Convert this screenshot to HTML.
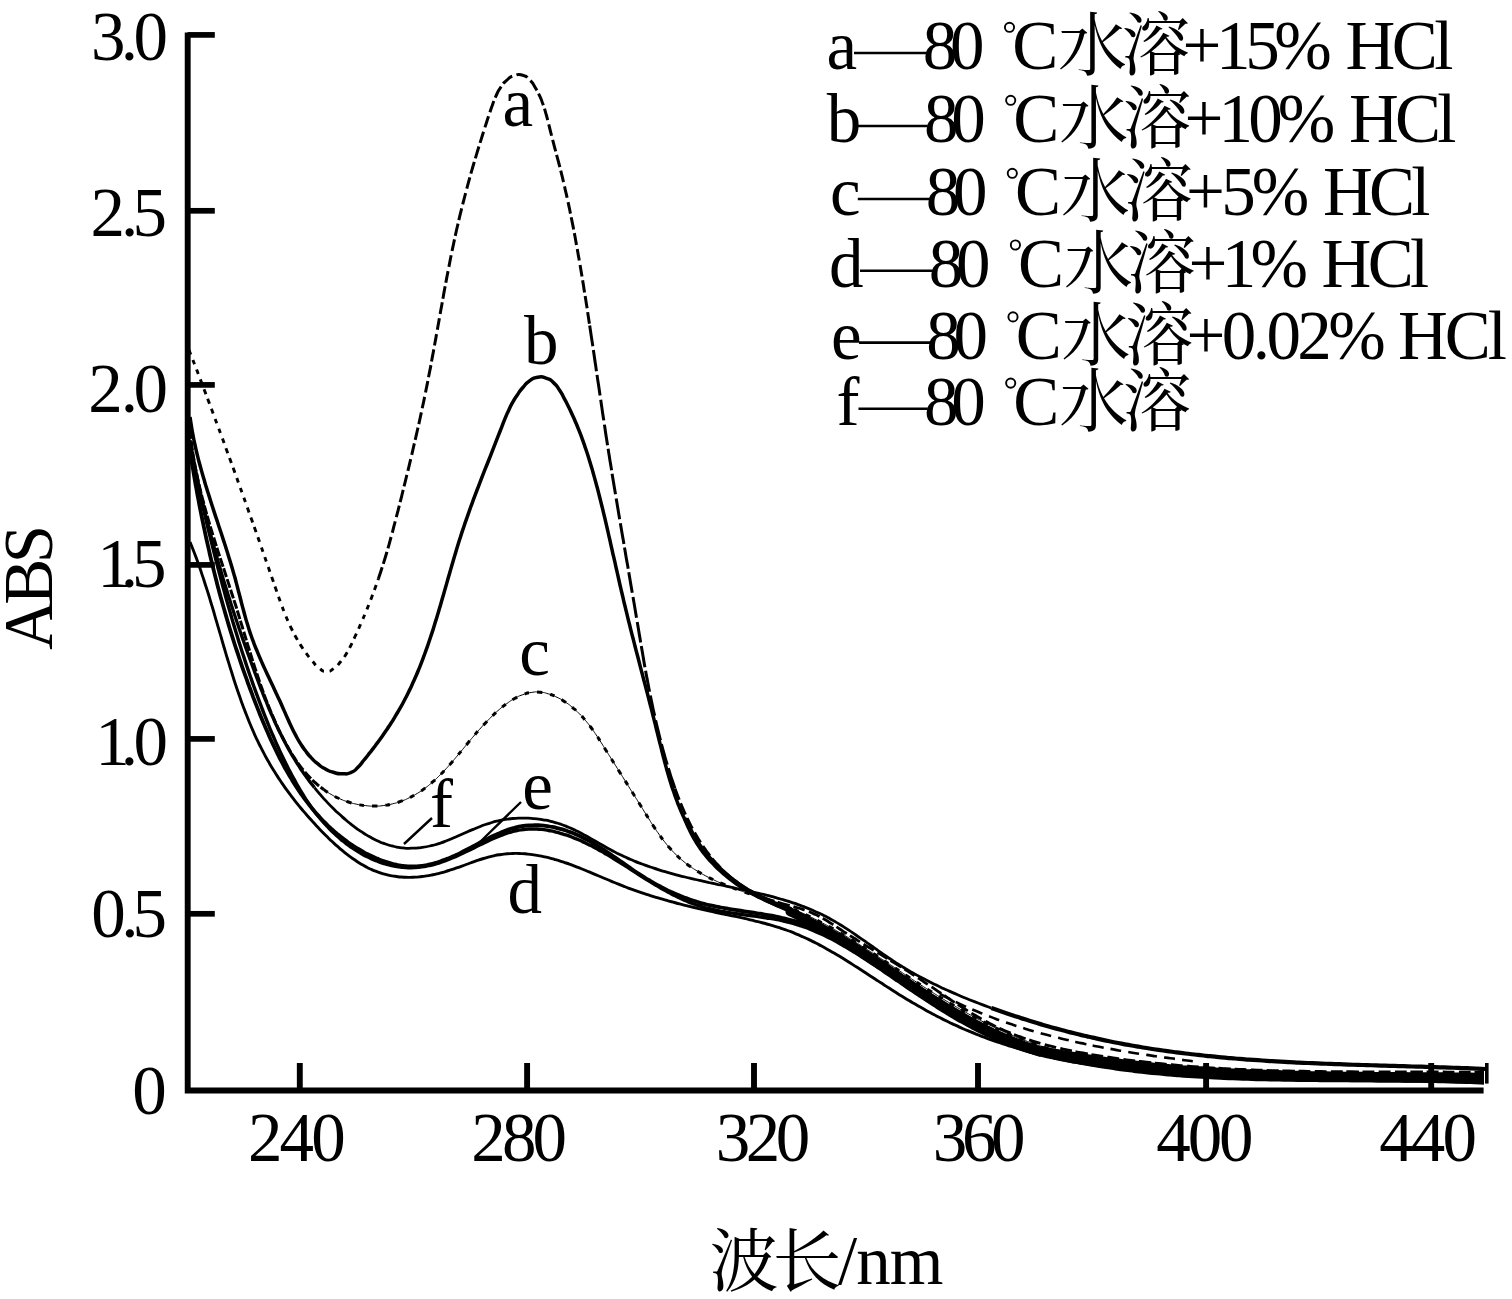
<!DOCTYPE html>
<html lang="zh"><head><meta charset="utf-8"><title>ABS</title>
<style>
html,body{margin:0;padding:0;background:#fff;}
body{width:1512px;height:1299px;overflow:hidden;}
svg{display:block;}
text{font-family:"Liberation Serif","Noto Serif CJK SC",serif;font-size:69px;fill:#000;}
.ax{stroke:#000;fill:none;stroke-linecap:butt;}
.cv{stroke:#000;fill:none;stroke-linejoin:round;}
</style></head><body>
<svg width="1512" height="1299" viewBox="0 0 1512 1299">
<rect width="1512" height="1299" fill="#fff"/>
<g id="axes">
<path class="ax" stroke-width="5.9" d="M187.7 32.5V1090.5H1483.6"/>
<path class="ax" stroke-width="5.7" d="M187.6 913.8H214.8"/>
<path class="ax" stroke-width="5.7" d="M187.6 738.9H214.8"/>
<path class="ax" stroke-width="5.7" d="M187.6 564.9H214.8"/>
<path class="ax" stroke-width="5.7" d="M187.6 384.9H214.8"/>
<path class="ax" stroke-width="5.7" d="M187.6 210.8H214.8"/>
<path class="ax" stroke-width="5.7" d="M187.6 34.9H214.8"/>
<path class="ax" stroke-width="5.9" d="M299.8 1090.5V1063"/>
<path class="ax" stroke-width="5.9" d="M527.1 1090.5V1063"/>
<path class="ax" stroke-width="5.9" d="M754.0 1090.5V1063"/>
<path class="ax" stroke-width="5.9" d="M978.0 1090.5V1063"/>
<path class="ax" stroke-width="5.9" d="M1206.1 1090.5V1063"/>
<path class="ax" stroke-width="5.9" d="M1431.2 1090.5V1063"/>
<path d="M1485 1063H1488.6V1083.6H1485Z" fill="#000"/>
</g>
<g id="ticklabels">
<text x="91.10 120.65 133.57" y="60.0">3.0</text>
<text x="90.57 121.05 132.59" y="235.8">2.5</text>
<text x="88.17 120.65 133.57" y="411.5">2.0</text>
<text x="97.24 120.85 131.89" y="587.3">1.5</text>
<text x="95.14 120.65 133.57" y="764.7">1.0</text>
<text x="91.37 121.15 132.59" y="937.0">0.5</text>
<text x="132.37" y="1113.9" letter-spacing="0.00">0</text>
<text x="247.97" y="1160.6" letter-spacing="-2.92">240</text>
<text x="471.37" y="1160.6" letter-spacing="-3.97">280</text>
<text x="715.70" y="1160.6" letter-spacing="-4.44">320</text>
<text x="932.70" y="1160.6" letter-spacing="-5.29">360</text>
<text x="1156.35" y="1160.6" letter-spacing="-3.21">400</text>
<text x="1379.25" y="1160.6" letter-spacing="-2.91">440</text>
</g>
<g id="titles">
<text transform="translate(52 650) rotate(-90)" letter-spacing="-4.5">ABS</text>
<text x="709.4 772.4" y="1285.7" font-size="66">波长</text>
<text x="838.0" y="1284.0" letter-spacing="-1.00" text-anchor="start">/nm</text>
</g>
<g id="legend">
<text x="826.57" y="69.0" letter-spacing="0.00">a</text>
<path d="M854.0 53.0H926.5" stroke="#000" stroke-width="2.6"/>
<text x="922.87" y="69.0" letter-spacing="-7.24">80</text>
<circle cx="1009.5" cy="27.3" r="4.6" fill="none" stroke="#000" stroke-width="1.9"/>
<text x="1012.17" y="69.0" letter-spacing="0.00">C</text>
<text x="1058.1 1121.2" y="70.3" font-size="64.5">水溶</text>
<text x="1182.56" y="69.0" letter-spacing="-5.37">+15%</text>
<text x="1345.51" y="69.0" letter-spacing="-3.58">HCl</text>
<text x="826.70" y="142.0" letter-spacing="0.00">b</text>
<path d="M855.4 126.0H927.7" stroke="#000" stroke-width="2.6"/>
<text x="924.07" y="142.0" letter-spacing="-7.24">80</text>
<circle cx="1010.7" cy="100.3" r="4.6" fill="none" stroke="#000" stroke-width="1.9"/>
<text x="1013.37" y="142.0" letter-spacing="0.00">C</text>
<text x="1059.3 1122.4" y="143.3" font-size="64.5">水溶</text>
<text x="1184.56" y="142.0" letter-spacing="-4.87">+10%</text>
<text x="1349.01" y="142.0" letter-spacing="-3.83">HCl</text>
<text x="829.97" y="215.0" letter-spacing="0.00">c</text>
<path d="M857.8 199.0H929.3" stroke="#000" stroke-width="2.6"/>
<text x="925.67" y="215.0" letter-spacing="-7.24">80</text>
<circle cx="1012.3" cy="173.3" r="4.6" fill="none" stroke="#000" stroke-width="1.9"/>
<text x="1014.97" y="215.0" letter-spacing="0.00">C</text>
<text x="1060.9 1124.0" y="216.3" font-size="64.5">水溶</text>
<text x="1186.06" y="215.0" letter-spacing="-3.80">+5%</text>
<text x="1323.01" y="215.0" letter-spacing="-3.83">HCl</text>
<text x="828.91" y="286.7" letter-spacing="0.00">d</text>
<path d="M860.0 270.7H932.4" stroke="#000" stroke-width="2.6"/>
<text x="928.77" y="286.7" letter-spacing="-7.24">80</text>
<circle cx="1015.4" cy="245.0" r="4.6" fill="none" stroke="#000" stroke-width="1.9"/>
<text x="1018.07" y="286.7" letter-spacing="0.00">C</text>
<text x="1064.0 1127.1" y="288.0" font-size="64.5">水溶</text>
<text x="1188.56" y="286.7" letter-spacing="-5.75">+1%</text>
<text x="1321.61" y="286.7" letter-spacing="-3.78">HCl</text>
<text x="831.10" y="358.6" letter-spacing="0.00">e</text>
<path d="M859.0 342.6H930.0" stroke="#000" stroke-width="2.6"/>
<text x="926.37" y="358.6" letter-spacing="-7.24">80</text>
<circle cx="1013.0" cy="316.9" r="4.6" fill="none" stroke="#000" stroke-width="1.9"/>
<text x="1015.67" y="358.6" letter-spacing="0.00">C</text>
<text x="1061.6 1124.7" y="359.9" font-size="64.5">水溶</text>
<text x="1186.56" y="358.6" letter-spacing="-3.59">+0.02%</text>
<text x="1398.01" y="358.6" letter-spacing="-3.08">HCl</text>
<text x="836.48" y="424.8" letter-spacing="0.00">f</text>
<path d="M858.5 408.8H927.7" stroke="#000" stroke-width="2.6"/>
<text x="924.07" y="424.8" letter-spacing="-7.24">80</text>
<circle cx="1010.7" cy="383.1" r="4.6" fill="none" stroke="#000" stroke-width="1.9"/>
<text x="1013.37" y="424.8" letter-spacing="0.00">C</text>
<text x="1059.3 1122.4" y="426.1" font-size="64.5">水溶</text>
</g>
<g id="curves" class="cv">
<path d="M189.0 350.0C190.1 352.8 190.1 352.8 192.2 358.3C194.4 363.9 193.3 361.1 195.5 366.7C197.6 372.3 196.5 369.5 198.7 375.1C200.8 380.7 199.7 377.9 201.9 383.6C204.0 389.2 203.0 386.4 205.1 392.0C207.2 397.7 206.2 394.8 208.3 400.5C210.4 406.2 209.3 403.3 211.5 409.0C213.6 414.7 212.5 411.8 214.6 417.5C216.7 423.2 215.7 420.3 217.8 426.0C219.9 431.7 218.9 428.9 221.0 434.6C223.1 440.3 222.0 437.4 224.1 443.1C226.2 448.8 225.1 446.0 227.2 451.7C229.3 457.4 228.3 454.5 230.4 460.3C232.4 466.0 231.4 463.1 233.5 468.8C235.5 474.6 234.5 471.7 236.6 477.4C238.6 483.1 237.6 480.3 239.6 486.0C241.7 491.7 240.7 488.8 242.7 494.6C244.8 500.3 243.7 497.4 245.8 503.1C247.8 508.8 246.8 506.0 248.8 511.7C250.8 517.4 249.8 514.6 251.9 520.3C253.9 526.0 252.9 523.1 254.9 528.8C256.9 534.5 255.9 531.7 257.9 537.3C259.9 543.0 258.9 540.2 260.9 545.9C262.9 551.5 261.9 548.7 263.8 554.4C265.8 560.0 264.8 557.2 266.8 562.9C268.8 568.5 267.8 565.7 269.7 571.3C271.7 577.0 270.7 574.2 272.7 579.8C274.6 585.4 273.6 582.6 275.6 588.2C277.5 593.8 276.5 591.0 278.5 596.6C280.5 602.2 279.4 599.4 281.5 604.9C283.6 610.5 282.5 607.7 284.7 613.2C286.9 618.7 285.7 616.0 288.1 621.4C290.5 626.9 289.2 624.2 291.9 629.5C294.6 634.9 293.1 632.2 296.1 637.5C299.1 642.8 297.5 640.2 300.8 645.4C304.2 650.6 302.4 648.0 306.1 653.1C309.9 658.2 307.9 655.8 312.1 660.7C316.3 665.6 314.1 664.3 318.8 667.8C323.5 671.4 321.2 671.2 326.2 671.4C331.3 671.5 329.1 671.6 334.0 668.3C338.9 664.9 336.8 666.2 341.0 661.3C345.1 656.3 343.2 658.8 346.5 653.4C349.8 648.1 348.2 650.8 350.9 645.3C353.7 639.8 352.3 642.5 354.8 637.0C357.4 631.5 356.1 634.3 358.6 628.8C361.0 623.3 359.8 626.0 362.2 620.5C364.6 615.0 363.4 617.8 365.7 612.2C368.0 606.7 366.9 609.5 369.1 604.0C371.3 598.4 370.2 601.2 372.3 595.6C374.4 590.0 373.4 592.8 375.4 587.2C377.5 581.6 377.4 581.6 378.4 578.8" stroke-width="2.9" stroke-dasharray="5 5.5"/>
<path d="M378.4 578.8C379.3 575.9 379.4 576.0 381.2 570.2C383.1 564.5 382.2 567.4 384.0 561.6C385.7 555.9 384.9 558.8 386.6 553.0C388.3 547.2 387.4 550.1 389.1 544.3C390.7 538.5 389.9 541.4 391.5 535.5C393.1 529.7 392.3 532.6 393.8 526.7C395.4 520.9 394.6 523.8 396.1 517.9C397.7 512.1 396.9 515.0 398.4 509.1C399.9 503.2 399.1 506.2 400.6 500.3C402.1 494.4 401.4 497.4 402.8 491.5C404.3 485.6 403.5 488.5 405.0 482.7C406.4 476.8 405.7 479.7 407.1 473.9C408.6 468.0 407.9 470.9 409.3 465.1C410.7 459.2 410.0 462.1 411.4 456.3C412.8 450.4 412.1 453.3 413.4 447.5C414.8 441.6 414.1 444.5 415.5 438.6C416.8 432.8 416.2 435.7 417.5 429.8C418.8 424.0 418.2 426.9 419.5 421.0C420.7 415.1 420.1 418.1 421.4 412.2C422.6 406.3 422.0 409.2 423.3 403.3C424.5 397.5 423.9 400.4 425.1 394.5C426.3 388.6 425.7 391.5 426.9 385.6C428.1 379.7 427.5 382.7 428.6 376.8C429.8 370.8 429.2 373.8 430.4 367.9C431.5 361.9 430.9 364.9 432.0 358.9C433.1 353.0 432.6 356.0 433.7 350.0C434.8 344.1 434.2 347.1 435.3 341.1C436.4 335.2 435.8 338.1 436.9 332.2C438.0 326.2 437.4 329.2 438.5 323.3C439.6 317.3 439.0 320.3 440.1 314.3C441.1 308.4 440.6 311.3 441.7 305.4C442.8 299.4 442.2 302.4 443.3 296.5C444.4 290.5 443.8 293.5 444.9 287.6C446.0 281.6 445.5 284.6 446.6 278.6C447.7 272.7 447.2 275.7 448.3 269.8C449.5 263.8 448.9 266.8 450.0 260.9C451.2 255.0 450.6 257.9 451.8 252.0C453.1 246.1 452.4 249.1 453.7 243.2C454.9 237.3 454.3 240.2 455.6 234.3C456.9 228.5 456.2 231.4 457.6 225.5C458.9 219.7 458.2 222.6 459.6 216.8C461.0 210.9 460.3 213.8 461.8 208.0C463.2 202.2 462.5 205.1 464.0 199.3C465.5 193.5 464.7 196.4 466.3 190.6C467.8 184.8 467.0 187.7 468.6 181.9C470.2 176.1 469.4 179.0 471.0 173.2C472.7 167.4 471.8 170.3 473.5 164.5C475.2 158.8 474.3 161.6 476.1 155.9C477.8 150.1 476.9 153.0 478.7 147.2C480.5 141.4 479.6 144.3 481.4 138.6C483.2 132.8 482.3 135.7 484.1 129.9C486.0 124.1 485.1 127.0 486.9 121.2C488.8 115.5 487.9 118.4 489.8 112.6C491.8 106.8 490.7 109.6 492.8 103.9C494.9 98.2 493.6 100.9 496.2 95.5C498.8 90.1 497.1 92.6 500.5 87.6C503.9 82.7 501.8 84.6 506.3 80.6C510.8 76.7 508.5 77.5 513.9 75.7C519.4 73.9 517.3 73.8 522.6 75.3C527.9 76.7 525.6 75.9 529.8 80.0C534.0 84.1 532.0 82.3 535.2 87.5C538.4 92.7 536.9 90.1 539.5 95.6C542.1 101.1 540.8 98.3 542.9 104.1C545.0 109.8 544.0 106.9 545.7 112.8C547.4 118.7 546.6 115.8 548.1 121.7C549.6 127.6 548.8 124.7 550.3 130.6C551.8 136.5 551.0 133.5 552.5 139.4C554.1 145.2 553.3 142.3 554.8 148.1C556.4 153.9 555.6 151.0 557.1 156.8C558.7 162.5 557.9 159.6 559.4 165.4C560.9 171.2 560.2 168.3 561.6 174.1C563.0 179.9 562.3 177.0 563.7 182.9C565.1 188.7 564.4 185.8 565.7 191.7C567.1 197.5 566.4 194.6 567.7 200.5C569.0 206.4 568.3 203.4 569.6 209.3C570.8 215.2 570.2 212.3 571.4 218.2C572.6 224.1 572.0 221.1 573.2 227.1C574.3 233.0 573.7 230.0 574.9 236.0C576.0 241.9 575.4 239.0 576.5 244.9C577.6 250.9 577.1 247.9 578.1 253.9C579.2 259.8 578.6 256.9 579.7 262.8C580.7 268.8 580.2 265.8 581.2 271.8C582.2 277.8 581.7 274.8 582.7 280.7C583.7 286.7 583.2 283.7 584.1 289.7C585.1 295.7 584.6 292.7 585.6 298.7C586.5 304.6 586.0 301.6 587.0 307.6C587.9 313.6 587.4 310.6 588.3 316.5C589.2 322.5 589.2 322.5 589.7 325.5" stroke-width="3.0" stroke-dasharray="12 4"/>
<path d="M589.7 325.5C590.1 328.5 590.2 328.5 591.0 334.4C591.9 340.4 591.5 337.4 592.4 343.4C593.3 349.3 592.8 346.3 593.7 352.3C594.6 358.2 594.1 355.3 595.0 361.2C595.9 367.2 595.5 364.2 596.3 370.2C597.2 376.1 596.8 373.1 597.6 379.1C598.5 385.0 598.1 382.1 599.0 388.0C599.8 394.0 599.4 391.0 600.3 396.9C601.2 402.9 600.7 399.9 601.6 405.9C602.5 411.8 602.0 408.9 602.9 414.8C603.8 420.8 603.4 417.8 604.3 423.8C605.2 429.7 604.7 426.7 605.6 432.7C606.5 438.7 606.1 435.7 607.0 441.7C607.9 447.6 607.5 444.6 608.4 450.6C609.3 456.6 608.9 453.6 609.8 459.6C610.8 465.5 610.3 462.6 611.3 468.5C612.2 474.5 611.7 471.5 612.7 477.5C613.7 483.5 613.2 480.5 614.2 486.5C615.2 492.5 614.7 489.5 615.7 495.4C616.7 501.4 616.2 498.4 617.2 504.4C618.2 510.4 617.7 507.4 618.7 513.4C619.7 519.4 619.2 516.4 620.2 522.4C621.2 528.3 620.7 525.3 621.7 531.3C622.7 537.3 622.2 534.3 623.3 540.3C624.3 546.3 623.8 543.3 624.8 549.2C625.8 555.2 625.3 552.2 626.3 558.2C627.4 564.2 626.8 561.2 627.9 567.1C628.9 573.1 628.4 570.1 629.4 576.1C630.4 582.0 629.9 579.1 630.9 585.0C632.0 591.0 631.4 588.0 632.5 593.9C633.5 599.9 633.0 596.9 634.0 602.8C635.0 608.8 634.5 605.8 635.5 611.7C636.5 617.6 636.0 614.7 637.0 620.6C638.0 626.5 637.5 623.6 638.5 629.5C639.5 635.4 639.0 632.4 640.0 638.3C640.9 644.2 640.4 641.3 641.5 647.2C642.5 653.1 642.0 650.1 643.0 656.0C644.0 661.9 643.5 659.0 644.5 664.9C645.6 670.7 645.1 667.8 646.1 673.7C647.2 679.6 646.7 676.6 647.8 682.5C648.9 688.4 648.3 685.4 649.5 691.3C650.7 697.2 650.1 694.3 651.3 700.2C652.5 706.0 651.9 703.1 653.1 709.0C654.4 714.9 653.8 711.9 655.1 717.8C656.4 723.7 655.7 720.8 657.1 726.7C658.5 732.5 657.8 729.6 659.3 735.5C660.8 741.4 660.0 738.4 661.5 744.3C663.1 750.3 662.3 747.3 663.9 753.2C665.6 759.1 664.7 756.2 666.5 762.1C668.2 768.0 667.3 765.0 669.2 770.9C671.0 776.8 670.0 773.9 672.0 779.8C674.0 785.6 674.0 785.6 675.0 788.5" stroke-width="3.0" stroke-dasharray="21 4"/>
<path d="M675.0 788.5C676.1 791.4 676.0 791.5 678.3 797.2C680.5 802.9 679.3 800.1 681.7 805.8C684.1 811.4 682.9 808.6 685.4 814.2C687.9 819.7 686.6 817.0 689.3 822.4C692.0 827.8 690.6 825.1 693.5 830.4C696.4 835.6 694.9 833.1 698.0 838.2C701.1 843.3 699.5 840.8 702.8 845.7C706.1 850.6 704.4 848.2 707.9 852.9C711.4 857.6 709.6 855.3 713.3 859.8C717.0 864.3 715.1 862.1 719.1 866.3C723.0 870.6 721.0 868.5 725.2 872.5C729.4 876.5 727.3 874.6 731.7 878.3C736.2 882.0 733.9 880.2 738.7 883.6C743.4 887.0 741.0 885.4 746.0 888.5C751.0 891.5 748.4 890.1 753.8 892.8C759.1 895.6 756.4 894.3 762.0 896.7C767.6 899.1 764.7 898.0 770.7 900.0C776.6 902.0 773.6 901.0 779.8 902.8C785.9 904.6 782.9 903.7 789.0 905.4C795.2 907.1 792.2 906.2 798.3 908.0C804.3 909.9 801.4 908.8 807.2 911.0C813.0 913.2 810.2 912.0 815.6 914.6C821.1 917.2 818.4 915.8 823.6 918.8C828.7 921.7 826.1 920.2 831.1 923.4C836.1 926.5 833.6 925.0 838.5 928.2C843.5 931.4 841.0 929.8 845.9 933.0C850.9 936.2 848.4 934.6 853.4 937.8C858.5 940.9 855.9 939.4 861.0 942.5C866.1 945.6 863.5 944.1 868.6 947.2C873.7 950.3 871.2 948.7 876.3 951.8C881.4 954.9 878.9 953.4 884.0 956.5C889.2 959.6 886.6 958.1 891.7 961.2C896.9 964.4 894.3 962.8 899.5 966.0C904.6 969.2 902.0 967.6 907.2 970.8C912.3 974.1 909.7 972.4 914.8 975.8C919.9 979.1 917.4 977.4 922.5 980.8C927.5 984.2 925.0 982.5 930.1 985.9C935.1 989.3 932.6 987.6 937.7 991.1C942.7 994.5 940.2 992.8 945.3 996.2C950.3 999.6 947.8 997.9 952.9 1001.3C958.0 1004.6 955.4 1003.0 960.5 1006.3C965.7 1009.5 963.1 1007.9 968.3 1011.1C973.4 1014.3 970.8 1012.8 976.0 1015.8C981.3 1018.9 978.6 1017.4 983.9 1020.3C989.2 1023.2 986.5 1021.8 991.9 1024.5C997.2 1027.3 994.5 1026.0 1000.0 1028.5C1005.4 1031.0 1002.7 1029.8 1008.2 1032.1C1013.7 1034.4 1010.9 1033.3 1016.5 1035.5C1022.1 1037.6 1019.3 1036.6 1025.0 1038.5C1030.6 1040.4 1027.8 1039.5 1033.5 1041.3C1039.2 1043.1 1036.3 1042.2 1042.1 1043.8C1047.9 1045.4 1045.0 1044.7 1050.8 1046.1C1056.7 1047.6 1053.7 1046.9 1059.6 1048.3C1065.5 1049.6 1062.6 1049.0 1068.5 1050.2C1074.4 1051.4 1071.4 1050.8 1077.3 1052.0C1083.3 1053.1 1080.3 1052.6 1086.3 1053.6C1092.2 1054.7 1089.2 1054.2 1095.2 1055.1C1101.2 1056.1 1098.2 1055.6 1104.2 1056.6C1110.1 1057.5 1107.1 1057.0 1113.1 1057.9C1119.1 1058.8 1116.1 1058.4 1122.1 1059.2C1128.1 1060.0 1125.1 1059.6 1131.1 1060.4C1137.1 1061.1 1134.1 1060.7 1140.1 1061.5C1146.1 1062.2 1143.1 1061.8 1149.1 1062.5C1155.1 1063.2 1152.1 1062.8 1158.1 1063.5C1164.1 1064.1 1161.1 1063.8 1167.1 1064.3C1173.1 1064.9 1170.1 1064.6 1176.1 1065.2C1182.1 1065.7 1179.1 1065.4 1185.1 1065.9C1191.1 1066.4 1188.1 1066.2 1194.2 1066.6C1200.2 1067.1 1197.2 1066.9 1203.2 1067.3C1209.2 1067.7 1206.2 1067.5 1212.2 1067.9C1218.2 1068.2 1215.2 1068.1 1221.3 1068.4C1227.3 1068.7 1224.3 1068.6 1230.3 1068.9C1236.3 1069.2 1233.3 1069.0 1239.4 1069.3C1245.4 1069.6 1242.4 1069.5 1248.4 1069.7C1254.5 1070.0 1251.4 1069.8 1257.5 1070.1C1263.5 1070.3 1260.5 1070.2 1266.5 1070.4C1272.6 1070.6 1269.6 1070.5 1275.6 1070.6C1281.6 1070.8 1278.6 1070.7 1284.7 1070.9C1290.7 1071.0 1287.7 1070.9 1293.7 1071.1C1299.8 1071.2 1296.8 1071.1 1302.8 1071.2C1308.8 1071.4 1305.8 1071.3 1311.9 1071.4C1317.9 1071.5 1314.9 1071.4 1320.9 1071.5C1327.0 1071.6 1324.0 1071.5 1330.0 1071.6C1336.1 1071.7 1333.0 1071.6 1339.1 1071.7C1345.1 1071.7 1342.1 1071.7 1348.2 1071.7C1354.2 1071.8 1351.2 1071.8 1357.2 1071.8C1363.3 1071.8 1360.2 1071.8 1366.3 1071.8C1372.3 1071.9 1369.3 1071.8 1375.4 1071.9C1381.4 1071.9 1378.4 1071.9 1384.4 1071.9C1390.5 1071.9 1387.5 1071.9 1393.5 1071.9C1399.5 1071.9 1396.5 1071.9 1402.6 1071.9C1408.6 1071.9 1405.6 1071.9 1411.6 1071.9C1417.7 1071.9 1414.6 1071.9 1420.7 1071.9C1426.7 1072.0 1423.7 1072.0 1429.7 1072.0C1435.8 1072.0 1432.8 1072.0 1438.8 1072.0C1444.8 1072.0 1441.8 1072.0 1447.8 1072.1C1453.9 1072.1 1450.9 1072.1 1456.9 1072.1C1462.9 1072.2 1459.9 1072.1 1465.9 1072.2C1472.0 1072.2 1468.9 1072.2 1475.0 1072.3C1481.0 1072.4 1481.0 1072.4 1484.0 1072.4" stroke-width="2.8" stroke-dasharray="12 4"/>
<path d="M190.0 417.0C190.5 420.0 190.4 420.1 191.4 426.1C192.4 432.1 191.8 429.1 193.0 435.1C194.1 441.1 193.5 438.1 194.8 444.0C196.1 450.0 195.4 447.0 196.8 452.9C198.2 458.8 197.5 455.8 199.0 461.7C200.6 467.5 199.8 464.6 201.4 470.4C203.0 476.2 202.2 473.3 203.9 479.1C205.6 484.9 204.7 482.0 206.5 487.8C208.2 493.6 207.4 490.7 209.2 496.4C211.0 502.2 210.1 499.3 211.9 505.0C213.8 510.8 212.8 507.9 214.7 513.6C216.6 519.4 215.7 516.5 217.6 522.2C219.4 527.9 218.5 525.1 220.4 530.8C222.3 536.5 221.3 533.7 223.2 539.4C225.1 545.2 224.2 542.3 226.0 548.0C227.8 553.8 226.9 550.9 228.7 556.7C230.5 562.5 229.6 559.6 231.4 565.4C233.1 571.2 232.3 568.3 233.9 574.1C235.6 579.9 234.8 577.0 236.3 582.9C237.9 588.7 237.1 585.8 238.6 591.7C240.2 597.6 239.4 594.6 240.9 600.5C242.4 606.4 241.6 603.5 243.2 609.3C244.8 615.2 244.0 612.3 245.6 618.1C247.3 623.9 246.4 621.0 248.2 626.7C250.0 632.5 249.1 629.6 251.0 635.3C253.0 641.0 252.0 638.2 254.1 643.8C256.3 649.4 255.2 646.6 257.5 652.1C259.8 657.7 258.6 654.9 261.0 660.4C263.4 665.9 262.2 663.1 264.7 668.6C267.2 674.1 266.0 671.3 268.5 676.8C271.1 682.3 269.8 679.5 272.4 685.0C274.9 690.5 273.7 687.7 276.2 693.3C278.8 698.8 277.5 696.0 280.1 701.5C282.6 707.1 281.3 704.3 283.8 709.9C286.3 715.5 285.0 712.7 287.5 718.3C290.1 723.9 288.7 721.2 291.4 726.7C294.0 732.2 292.6 729.5 295.5 734.9C298.3 740.2 296.8 737.6 300.0 742.8C303.2 747.9 301.5 745.5 305.1 750.3C308.7 755.2 306.8 752.9 310.9 757.4C315.1 761.8 312.9 759.9 317.6 763.7C322.3 767.5 319.8 765.9 325.0 768.8C330.3 771.7 327.5 770.6 333.3 772.3C339.0 773.9 336.2 773.7 342.2 773.7C348.2 773.8 345.9 774.6 351.2 772.4C356.5 770.1 353.9 771.1 358.2 767.0C362.4 762.9 360.2 764.7 364.0 760.0C367.9 755.3 366.0 757.7 369.7 752.9C373.5 748.2 371.6 750.6 375.3 745.7C378.9 740.9 377.1 743.4 380.6 738.5C384.1 733.5 382.4 736.0 385.8 731.0C389.2 726.1 387.5 728.6 390.8 723.5C394.0 718.5 392.4 721.0 395.5 715.9C398.6 710.7 397.1 713.3 400.1 708.1C403.1 702.9 401.6 705.5 404.4 700.2C407.2 694.9 405.9 697.6 408.5 692.2C411.2 686.7 409.9 689.5 412.4 684.0C414.9 678.5 413.7 681.2 416.1 675.7C418.5 670.1 417.3 672.9 419.6 667.3C421.8 661.7 420.7 664.5 422.9 658.8C425.0 653.2 424.0 656.0 426.0 650.3C428.1 644.6 427.1 647.4 429.0 641.7C431.0 635.9 430.0 638.8 431.9 633.1C433.8 627.3 432.8 630.2 434.6 624.4C436.4 618.6 435.6 621.5 437.3 615.7C439.1 609.9 438.2 612.8 439.9 607.0C441.6 601.2 440.8 604.1 442.4 598.3C444.1 592.5 443.3 595.4 444.9 589.6C446.6 583.8 445.8 586.7 447.4 580.9C449.1 575.1 448.2 578.0 449.9 572.2C451.6 566.4 450.7 569.3 452.4 563.5C454.1 557.7 453.2 560.6 455.0 554.8C456.7 549.0 455.8 551.9 457.6 546.1C459.4 540.4 458.4 543.2 460.3 537.5C462.1 531.7 461.2 534.6 463.1 528.9C465.0 523.2 464.0 526.0 466.0 520.3C468.0 514.6 467.0 517.5 469.0 511.8C471.0 506.1 470.0 508.9 472.1 503.3C474.2 497.6 473.1 500.4 475.2 494.8C477.4 489.1 476.3 491.9 478.5 486.3C480.6 480.7 479.6 483.5 481.7 477.9C483.9 472.2 482.8 475.0 485.0 469.4C487.3 463.8 486.2 466.6 488.4 461.0C490.6 455.4 489.5 458.2 491.7 452.6C493.9 447.0 492.8 449.8 495.0 444.2C497.2 438.5 496.1 441.4 498.3 435.7C500.5 430.1 499.4 432.9 501.6 427.3C503.8 421.7 502.6 424.5 504.9 418.9C507.2 413.4 505.9 416.1 508.5 410.7C511.0 405.2 509.6 407.9 512.5 402.6C515.5 397.4 513.8 399.9 517.3 394.9C520.7 389.9 518.8 392.2 522.9 387.5C526.9 382.9 524.6 384.4 529.5 380.9C534.5 377.5 531.9 378.1 537.6 377.3C543.3 376.4 541.2 376.4 546.6 378.3C552.1 380.3 549.7 379.1 554.0 383.1C558.3 387.1 556.2 385.2 559.6 390.2C563.0 395.3 561.3 392.9 564.2 398.4C567.2 403.9 565.8 401.2 568.5 406.7C571.2 412.2 569.9 409.4 572.4 415.0C575.0 420.5 573.7 417.8 576.1 423.3C578.4 428.9 577.3 426.1 579.5 431.7C581.7 437.3 580.6 434.5 582.7 440.1C584.7 445.7 583.7 442.9 585.6 448.5C587.5 454.2 586.6 451.3 588.4 457.0C590.2 462.7 589.3 459.8 591.0 465.5C592.7 471.2 591.9 468.4 593.5 474.1C595.1 479.8 594.3 477.0 595.9 482.7C597.4 488.5 596.7 485.6 598.2 491.4C599.7 497.2 598.9 494.3 600.4 500.1C601.9 506.0 601.1 503.0 602.6 508.9C604.0 514.8 603.3 511.8 604.7 517.7C606.1 523.6 605.4 520.7 606.8 526.6C608.1 532.5 607.5 529.5 608.8 535.5C610.2 541.4 609.5 538.4 610.8 544.3C612.2 550.3 611.5 547.3 612.8 553.3C614.2 559.2 613.5 556.2 614.9 562.2C616.2 568.1 615.5 565.1 616.9 571.1C618.2 577.0 617.5 574.0 618.9 580.0C620.2 585.9 619.5 582.9 620.9 588.8C622.3 594.7 621.6 591.8 623.0 597.7C624.3 603.6 623.6 600.6 625.1 606.5C626.5 612.3 625.8 609.4 627.2 615.2C628.6 621.1 627.9 618.2 629.4 624.0C630.8 629.8 630.1 626.9 631.5 632.7C633.0 638.5 632.3 635.6 633.8 641.4C635.3 647.2 634.5 644.3 636.0 650.1C637.5 655.8 636.8 652.9 638.3 658.7C639.8 664.5 639.0 661.6 640.5 667.4C642.0 673.2 641.3 670.3 642.8 676.1C644.3 681.9 643.6 679.0 645.1 684.8C646.6 690.6 645.8 687.7 647.4 693.5C648.9 699.4 648.1 696.4 649.6 702.3C651.1 708.1 650.4 705.2 651.9 711.1C653.4 717.0 652.6 714.0 654.1 719.9C655.6 725.8 654.9 722.9 656.3 728.8C657.8 734.7 657.1 731.8 658.5 737.7C660.0 743.7 659.3 740.7 660.8 746.7C662.3 752.7 661.5 749.7 663.0 755.6C664.6 761.6 663.8 758.6 665.4 764.6C667.0 770.5 666.2 767.6 667.9 773.4C669.6 779.3 668.7 776.4 670.5 782.3C672.4 788.1 671.4 785.2 673.4 791.0C675.3 796.7 674.3 793.9 676.4 799.5C678.5 805.2 677.4 802.4 679.7 808.0C682.0 813.5 680.8 810.8 683.3 816.2C685.8 821.6 684.5 819.0 687.2 824.3C689.9 829.6 688.5 827.0 691.5 832.1C694.5 837.2 692.9 834.7 696.1 839.7C699.4 844.6 697.7 842.2 701.2 847.0C704.7 851.8 702.9 849.4 706.7 854.0C710.5 858.6 708.6 856.4 712.6 860.7C716.7 865.1 714.6 863.0 718.9 867.2C723.3 871.3 721.1 869.3 725.6 873.3C730.1 877.2 727.8 875.3 732.6 879.0C737.3 882.8 734.9 881.0 739.8 884.5C744.8 888.0 742.3 886.3 747.4 889.6C752.5 892.9 749.9 891.3 755.1 894.4C760.4 897.4 757.7 896.0 763.1 898.8C768.5 901.6 765.8 900.2 771.3 902.8C776.7 905.5 774.0 904.2 779.5 906.6C785.1 909.1 782.3 907.8 787.9 910.2C793.5 912.5 790.7 911.3 796.3 913.7C801.8 916.0 799.1 914.8 804.6 917.2C810.1 919.7 807.4 918.4 812.9 921.0C818.3 923.5 815.6 922.2 821.0 924.9C826.4 927.6 823.7 926.3 829.0 929.1C834.3 932.0 831.7 930.5 836.9 933.5C842.2 936.4 839.5 934.9 844.7 938.0C849.9 941.1 847.3 939.5 852.5 942.7C857.6 945.9 855.1 944.3 860.2 947.5C865.3 950.8 862.7 949.1 867.8 952.4C872.9 955.7 870.3 954.1 875.4 957.5C880.4 960.8 877.9 959.1 882.9 962.5C887.9 965.9 885.4 964.2 890.4 967.7C895.5 971.1 892.9 969.4 898.0 972.8C903.0 976.2 900.5 974.5 905.5 978.0C910.5 981.4 908.0 979.7 913.0 983.1C918.0 986.5 915.5 984.8 920.5 988.2C925.6 991.6 923.0 989.9 928.1 993.2C933.2 996.6 930.6 994.9 935.7 998.2C940.8 1001.5 938.3 999.9 943.4 1003.1C948.5 1006.3 945.9 1004.7 951.1 1007.8C956.3 1010.9 953.7 1009.4 958.9 1012.4C964.2 1015.4 961.5 1013.9 966.8 1016.8C972.1 1019.7 969.5 1018.3 974.8 1021.1C980.2 1023.9 977.5 1022.5 982.9 1025.2C988.3 1027.8 985.6 1026.5 991.0 1029.1C996.5 1031.6 993.8 1030.4 999.3 1032.8C1004.8 1035.2 1002.0 1034.0 1007.6 1036.3C1013.2 1038.6 1010.4 1037.5 1016.0 1039.7C1021.6 1041.8 1018.8 1040.8 1024.5 1042.8C1030.1 1044.8 1027.3 1043.8 1033.0 1045.7C1038.7 1047.6 1035.9 1046.7 1041.6 1048.5C1047.4 1050.2 1044.5 1049.4 1050.3 1051.0C1056.1 1052.7 1053.2 1051.9 1059.0 1053.4C1064.8 1054.9 1061.9 1054.2 1067.8 1055.5C1073.7 1056.9 1070.7 1056.2 1076.6 1057.4C1082.5 1058.6 1079.6 1058.1 1085.5 1059.1C1091.4 1060.2 1088.5 1059.7 1094.4 1060.6C1100.4 1061.6 1097.4 1061.1 1103.4 1062.0C1109.4 1062.8 1106.4 1062.4 1112.4 1063.1C1118.4 1063.9 1115.4 1063.5 1121.4 1064.2C1127.5 1064.8 1124.4 1064.5 1130.5 1065.1C1136.5 1065.7 1133.5 1065.4 1139.5 1065.9C1145.6 1066.4 1142.6 1066.2 1148.6 1066.7C1154.7 1067.1 1151.6 1066.9 1157.7 1067.4C1163.7 1067.8 1160.7 1067.6 1166.8 1068.0C1172.8 1068.4 1169.8 1068.2 1175.8 1068.6C1181.9 1069.1 1178.9 1068.9 1184.9 1069.2C1191.0 1069.6 1187.9 1069.4 1194.0 1069.8C1200.0 1070.2 1197.0 1070.0 1203.1 1070.4C1209.1 1070.7 1206.1 1070.6 1212.1 1070.9C1218.2 1071.2 1215.1 1071.1 1221.2 1071.4C1227.2 1071.7 1224.2 1071.6 1230.2 1071.9C1236.3 1072.2 1233.3 1072.0 1239.3 1072.3C1245.3 1072.6 1242.3 1072.5 1248.4 1072.8C1254.4 1073.0 1251.4 1072.9 1257.4 1073.2C1263.4 1073.4 1260.4 1073.3 1266.5 1073.6C1272.5 1073.8 1269.5 1073.7 1275.5 1073.9C1281.5 1074.1 1278.5 1074.0 1284.6 1074.3C1290.6 1074.5 1287.6 1074.4 1293.6 1074.6C1299.7 1074.8 1296.6 1074.7 1302.7 1074.9C1308.7 1075.1 1305.7 1075.0 1311.7 1075.1C1317.8 1075.3 1314.7 1075.2 1320.8 1075.4C1326.8 1075.6 1323.8 1075.5 1329.8 1075.6C1335.9 1075.8 1332.8 1075.7 1338.9 1075.8C1344.9 1076.0 1341.9 1075.9 1347.9 1076.0C1354.0 1076.2 1350.9 1076.1 1357.0 1076.2C1363.0 1076.3 1360.0 1076.3 1366.0 1076.4C1372.1 1076.5 1369.1 1076.4 1375.1 1076.5C1381.1 1076.6 1378.1 1076.5 1384.2 1076.6C1390.2 1076.7 1387.2 1076.7 1393.2 1076.7C1399.3 1076.8 1396.2 1076.8 1402.3 1076.8C1408.3 1076.9 1405.3 1076.8 1411.4 1076.9C1417.4 1076.9 1414.4 1076.9 1420.4 1076.9C1426.5 1077.0 1423.4 1077.0 1429.5 1077.0C1435.5 1077.0 1432.5 1077.0 1438.6 1077.0C1444.6 1077.0 1441.6 1077.0 1447.6 1077.0C1453.7 1077.0 1450.7 1077.0 1456.7 1077.0C1462.8 1077.0 1459.8 1077.0 1465.8 1077.0C1471.9 1077.0 1468.8 1077.0 1474.9 1076.9C1481.0 1076.9 1481.0 1076.9 1484.0 1076.9" stroke-width="3.5"/>
<path d="M190.0 430.0C190.3 433.0 190.2 433.0 191.0 439.1C191.7 445.1 191.3 442.1 192.1 448.1C193.0 454.1 192.5 451.1 193.5 457.1C194.5 463.0 194.0 460.0 195.1 466.0C196.2 471.9 195.7 468.9 196.9 474.8C198.1 480.7 197.5 477.8 198.8 483.7C200.2 489.5 199.5 486.6 200.9 492.5C202.4 498.3 201.6 495.4 203.2 501.2C204.7 507.0 203.9 504.1 205.5 509.9C207.1 515.8 206.3 512.9 208.0 518.6C209.7 524.4 208.8 521.5 210.5 527.3C212.3 533.1 211.4 530.2 213.2 536.0C215.0 541.7 214.1 538.9 215.9 544.6C217.7 550.4 216.8 547.5 218.6 553.2C220.5 559.0 219.6 556.1 221.4 561.8C223.3 567.6 222.4 564.7 224.3 570.4C226.1 576.2 225.2 573.3 227.1 579.0C229.0 584.8 228.0 581.9 229.9 587.6C231.8 593.4 230.8 590.5 232.7 596.2C234.5 602.0 233.6 599.1 235.5 604.8C237.3 610.6 236.4 607.7 238.2 613.5C239.9 619.2 239.1 616.3 240.8 622.1C242.6 627.8 241.7 625.0 243.4 630.7C245.2 636.5 244.3 633.6 246.1 639.4C247.8 645.1 246.9 642.2 248.7 648.0C250.5 653.7 249.6 650.9 251.4 656.6C253.2 662.3 252.2 659.5 254.1 665.2C255.9 670.9 255.0 668.1 256.9 673.8C258.8 679.5 257.8 676.7 259.8 682.4C261.7 688.0 260.7 685.2 262.8 690.9C264.8 696.6 263.8 693.7 265.9 699.4C268.1 705.0 267.0 702.2 269.2 707.8C271.5 713.4 270.3 710.6 272.7 716.2C275.1 721.8 273.9 719.0 276.4 724.6C278.9 730.1 277.6 727.4 280.3 732.9C283.0 738.4 281.6 735.7 284.5 741.1C287.3 746.5 285.9 743.8 288.9 749.1C292.0 754.3 290.4 751.8 293.7 756.9C297.0 761.9 295.3 759.5 298.8 764.3C302.4 769.1 300.5 766.8 304.4 771.4C308.2 775.9 306.2 773.8 310.3 778.0C314.5 782.2 312.3 780.2 316.8 784.1C321.2 787.9 321.4 787.7 323.7 789.6" stroke-width="3.0" stroke-dasharray="9 2"/>
<path d="M323.7 789.6C326.2 791.2 326.0 791.4 331.1 794.4C336.3 797.4 333.6 796.0 339.2 798.5C344.7 800.9 341.9 799.9 347.7 801.8C353.5 803.6 350.6 802.9 356.6 804.2C362.6 805.4 359.6 805.0 365.7 805.6C371.8 806.3 368.8 806.1 374.8 806.1C380.9 806.0 377.9 806.2 383.8 805.5C389.8 804.7 386.9 805.3 392.6 803.8C398.4 802.4 395.6 803.3 401.2 801.2C406.7 799.2 404.0 800.3 409.4 797.7C414.7 795.1 412.1 796.5 417.3 793.4C422.4 790.3 419.9 791.9 424.7 788.4C429.6 784.8 427.2 786.6 431.8 782.7C436.4 778.7 434.2 780.7 438.5 776.5C442.9 772.3 440.8 774.4 444.9 770.0C449.1 765.5 447.0 767.7 451.0 763.2C455.0 758.7 453.0 760.9 456.8 756.4C460.7 751.8 458.7 754.1 462.5 749.6C466.2 745.1 464.3 747.3 468.1 742.8C471.8 738.3 469.9 740.6 473.7 736.1C477.5 731.6 475.5 733.9 479.5 729.4C483.5 724.9 481.4 727.2 485.7 722.7C489.9 718.2 487.7 720.4 492.3 716.0C496.8 711.6 494.5 713.6 499.3 709.5C504.2 705.3 501.7 707.2 506.8 703.6C511.9 699.9 509.3 701.5 514.6 698.5C519.9 695.6 517.2 696.7 522.8 694.7C528.3 692.7 525.5 693.3 531.2 692.5C536.8 691.7 534.0 691.7 539.8 692.2C545.6 692.7 542.7 692.2 548.5 693.9C554.2 695.6 551.5 694.6 557.0 697.3C562.6 700.0 560.0 698.6 565.2 702.0C570.3 705.4 567.9 703.6 572.6 707.6C577.3 711.5 575.0 709.4 579.3 713.7C583.6 718.0 581.5 715.8 585.4 720.4C589.3 725.0 587.4 722.7 591.0 727.5C594.6 732.4 592.8 730.0 596.2 734.9C599.6 739.9 597.9 737.5 601.1 742.5C604.4 747.6 602.7 745.1 605.9 750.2C609.1 755.3 607.5 752.7 610.7 757.8C613.9 762.9 612.3 760.4 615.5 765.4C618.7 770.5 617.1 768.0 620.2 773.0C623.4 778.1 621.8 775.5 625.0 780.6C628.2 785.7 626.6 783.1 629.7 788.2C632.9 793.3 631.3 790.7 634.5 795.8C637.7 800.9 636.1 798.3 639.3 803.5C642.5 808.6 640.9 806.0 644.1 811.2C647.2 816.3 645.6 813.8 648.9 818.9C652.1 824.0 650.4 821.5 653.8 826.6C657.1 831.6 655.4 829.2 658.9 834.1C662.4 839.1 660.6 836.7 664.3 841.4C668.0 846.1 666.0 843.9 670.0 848.3C674.0 852.8 671.9 850.7 676.2 854.8C680.4 859.0 678.2 857.0 682.8 860.8C687.4 864.6 685.1 862.8 689.9 866.2C694.8 869.7 692.3 868.0 697.5 871.2C702.6 874.3 700.0 872.8 705.3 875.7C710.6 878.5 708.0 877.1 713.4 879.7C718.9 882.4 716.2 881.1 721.7 883.5C727.3 885.9 724.5 884.7 730.2 886.9C735.8 889.1 733.0 888.0 738.7 890.1C744.4 892.1 741.6 891.1 747.3 893.1C753.0 895.0 750.2 894.0 755.9 896.0C761.7 897.9 758.8 896.9 764.6 898.8C770.3 900.8 767.4 899.8 773.1 901.7C778.8 903.7 776.0 902.7 781.7 904.8C787.3 906.8 784.5 905.8 790.1 908.0C795.7 910.2 792.9 909.0 798.4 911.4C803.9 913.8 801.2 912.6 806.6 915.1C812.0 917.6 809.3 916.3 814.7 919.0C820.0 921.7 817.3 920.3 822.6 923.1C827.9 925.9 825.3 924.4 830.5 927.3C835.8 930.2 833.1 928.8 838.3 931.8C843.5 934.8 840.9 933.2 846.1 936.3C851.2 939.4 848.7 937.9 853.8 941.0C858.9 944.2 856.3 942.6 861.4 945.8C866.5 949.0 863.9 947.4 869.0 950.7C874.1 954.0 871.5 952.3 876.6 955.6C881.6 959.0 879.1 957.3 884.1 960.6C889.2 964.0 886.7 962.3 891.7 965.7C896.7 969.0 894.2 967.4 899.3 970.7C904.3 974.1 901.8 972.4 906.8 975.8C911.9 979.1 909.3 977.4 914.4 980.8C919.5 984.1 917.0 982.5 922.1 985.8C927.2 989.1 924.6 987.4 929.7 990.7C934.9 993.9 932.3 992.3 937.4 995.5C942.6 998.7 940.0 997.2 945.2 1000.3C950.4 1003.5 947.8 1001.9 953.0 1005.0C958.2 1008.1 955.6 1006.6 960.8 1009.6C966.1 1012.6 963.4 1011.1 968.7 1014.0C974.0 1017.0 971.4 1015.5 976.7 1018.4C982.0 1021.2 979.3 1019.8 984.7 1022.6C990.0 1025.3 987.3 1024.0 992.8 1026.6C998.2 1029.2 995.4 1027.9 1000.9 1030.4C1006.3 1032.9 1003.6 1031.7 1009.1 1034.1C1014.6 1036.5 1011.8 1035.3 1017.4 1037.6C1022.9 1039.8 1020.1 1038.7 1025.7 1040.8C1031.3 1042.9 1028.5 1041.9 1034.1 1043.9C1039.8 1045.8 1036.9 1044.9 1042.6 1046.7C1048.3 1048.5 1045.4 1047.6 1051.2 1049.2C1056.9 1050.8 1054.1 1050.1 1059.8 1051.5C1065.6 1053.0 1062.7 1052.3 1068.6 1053.6C1074.4 1055.0 1071.5 1054.3 1077.4 1055.5C1083.2 1056.8 1080.3 1056.2 1086.2 1057.3C1092.1 1058.3 1089.1 1057.8 1095.1 1058.8C1101.0 1059.8 1098.1 1059.3 1104.0 1060.2C1110.0 1061.0 1107.0 1060.6 1113.0 1061.4C1119.0 1062.2 1116.0 1061.8 1122.0 1062.5C1128.1 1063.1 1125.0 1062.8 1131.1 1063.4C1137.1 1064.0 1134.1 1063.7 1140.2 1064.3C1146.2 1064.8 1143.2 1064.6 1149.3 1065.0C1155.3 1065.5 1152.3 1065.3 1158.4 1065.7C1164.4 1066.1 1161.4 1065.9 1167.5 1066.3C1173.6 1066.7 1170.5 1066.5 1176.6 1066.9C1182.7 1067.2 1179.7 1067.1 1185.7 1067.4C1191.8 1067.7 1188.8 1067.5 1194.8 1067.9C1200.9 1068.2 1197.9 1068.0 1203.9 1068.3C1210.0 1068.6 1207.0 1068.5 1213.0 1068.8C1219.1 1069.1 1216.1 1069.0 1222.1 1069.2C1228.1 1069.5 1225.1 1069.4 1231.2 1069.7C1237.2 1070.0 1234.2 1069.8 1240.2 1070.1C1246.2 1070.4 1243.2 1070.3 1249.2 1070.5C1255.3 1070.8 1252.2 1070.7 1258.3 1071.0C1264.3 1071.2 1261.3 1071.1 1267.3 1071.3C1273.3 1071.6 1270.3 1071.5 1276.3 1071.7C1282.3 1072.0 1279.3 1071.9 1285.3 1072.1C1291.3 1072.3 1288.3 1072.2 1294.3 1072.4C1300.3 1072.7 1297.3 1072.6 1303.3 1072.8C1309.3 1073.0 1306.3 1072.9 1312.3 1073.1C1318.3 1073.3 1315.3 1073.2 1321.3 1073.4C1327.3 1073.6 1324.3 1073.5 1330.3 1073.7C1336.2 1073.9 1333.2 1073.8 1339.2 1073.9C1345.2 1074.1 1342.2 1074.0 1348.2 1074.2C1354.2 1074.3 1351.2 1074.3 1357.2 1074.4C1363.2 1074.6 1360.2 1074.5 1366.2 1074.6C1372.2 1074.7 1369.2 1074.7 1375.2 1074.8C1381.2 1074.9 1378.2 1074.8 1384.2 1074.9C1390.2 1075.0 1387.2 1075.0 1393.2 1075.1C1399.3 1075.1 1396.2 1075.1 1402.3 1075.2C1408.3 1075.2 1405.3 1075.2 1411.3 1075.2C1417.3 1075.3 1414.3 1075.3 1420.3 1075.3C1426.4 1075.3 1423.3 1075.3 1429.4 1075.3C1435.4 1075.3 1432.4 1075.3 1438.5 1075.3C1444.5 1075.3 1441.5 1075.3 1447.5 1075.3C1453.6 1075.2 1450.6 1075.3 1456.6 1075.2C1462.7 1075.1 1459.7 1075.2 1465.7 1075.1C1471.8 1075.0 1468.8 1075.1 1474.9 1075.0C1480.9 1074.9 1481.0 1074.9 1484.0 1074.8" stroke-width="1.0"/>
<path d="M323.7 789.6C326.2 791.2 326.0 791.4 331.1 794.4C336.3 797.4 333.6 796.0 339.2 798.5C344.7 800.9 341.9 799.9 347.7 801.8C353.5 803.6 350.6 802.9 356.6 804.2C362.6 805.4 359.6 805.0 365.7 805.6C371.8 806.3 368.8 806.1 374.8 806.1C380.9 806.0 377.9 806.2 383.8 805.5C389.8 804.7 386.9 805.3 392.6 803.8C398.4 802.4 395.6 803.3 401.2 801.2C406.7 799.2 404.0 800.3 409.4 797.7C414.7 795.1 412.1 796.5 417.3 793.4C422.4 790.3 419.9 791.9 424.7 788.4C429.6 784.8 427.2 786.6 431.8 782.7C436.4 778.7 434.2 780.7 438.5 776.5C442.9 772.3 440.8 774.4 444.9 770.0C449.1 765.5 447.0 767.7 451.0 763.2C455.0 758.7 453.0 760.9 456.8 756.4C460.7 751.8 458.7 754.1 462.5 749.6C466.2 745.1 464.3 747.3 468.1 742.8C471.8 738.3 469.9 740.6 473.7 736.1C477.5 731.6 475.5 733.9 479.5 729.4C483.5 724.9 481.4 727.2 485.7 722.7C489.9 718.2 487.7 720.4 492.3 716.0C496.8 711.6 494.5 713.6 499.3 709.5C504.2 705.3 501.7 707.2 506.8 703.6C511.9 699.9 509.3 701.5 514.6 698.5C519.9 695.6 517.2 696.7 522.8 694.7C528.3 692.7 525.5 693.3 531.2 692.5C536.8 691.7 534.0 691.7 539.8 692.2C545.6 692.7 542.7 692.2 548.5 693.9C554.2 695.6 551.5 694.6 557.0 697.3C562.6 700.0 560.0 698.6 565.2 702.0C570.3 705.4 567.9 703.6 572.6 707.6C577.3 711.5 575.0 709.4 579.3 713.7C583.6 718.0 581.5 715.8 585.4 720.4C589.3 725.0 587.4 722.7 591.0 727.5C594.6 732.4 592.8 730.0 596.2 734.9C599.6 739.9 597.9 737.5 601.1 742.5C604.4 747.6 602.7 745.1 605.9 750.2C609.1 755.3 607.5 752.7 610.7 757.8C613.9 762.9 612.3 760.4 615.5 765.4C618.7 770.5 617.1 768.0 620.2 773.0C623.4 778.1 621.8 775.5 625.0 780.6C628.2 785.7 626.6 783.1 629.7 788.2C632.9 793.3 631.3 790.7 634.5 795.8C637.7 800.9 636.1 798.3 639.3 803.5C642.5 808.6 640.9 806.0 644.1 811.2C647.2 816.3 645.6 813.8 648.9 818.9C652.1 824.0 650.4 821.5 653.8 826.6C657.1 831.6 655.4 829.2 658.9 834.1C662.4 839.1 660.6 836.7 664.3 841.4C668.0 846.1 666.0 843.9 670.0 848.3C674.0 852.8 671.9 850.7 676.2 854.8C680.4 859.0 678.2 857.0 682.8 860.8C687.4 864.6 685.1 862.8 689.9 866.2C694.8 869.7 692.3 868.0 697.5 871.2C702.6 874.3 700.0 872.8 705.3 875.7C710.6 878.5 708.0 877.1 713.4 879.7C718.9 882.4 716.2 881.1 721.7 883.5C727.3 885.9 724.5 884.7 730.2 886.9C735.8 889.1 733.0 888.0 738.7 890.1C744.4 892.1 741.6 891.1 747.3 893.1C753.0 895.0 750.2 894.0 755.9 896.0C761.7 897.9 758.8 896.9 764.6 898.8C770.3 900.8 767.4 899.8 773.1 901.7C778.8 903.7 776.0 902.7 781.7 904.8C787.3 906.8 784.5 905.8 790.1 908.0C795.7 910.2 792.9 909.0 798.4 911.4C803.9 913.8 801.2 912.6 806.6 915.1C812.0 917.6 809.3 916.3 814.7 919.0C820.0 921.7 817.3 920.3 822.6 923.1C827.9 925.9 825.3 924.4 830.5 927.3C835.8 930.2 833.1 928.8 838.3 931.8C843.5 934.8 840.9 933.2 846.1 936.3C851.2 939.4 848.7 937.9 853.8 941.0C858.9 944.2 856.3 942.6 861.4 945.8C866.5 949.0 863.9 947.4 869.0 950.7C874.1 954.0 871.5 952.3 876.6 955.6C881.6 959.0 879.1 957.3 884.1 960.6C889.2 964.0 886.7 962.3 891.7 965.7C896.7 969.0 894.2 967.4 899.3 970.7C904.3 974.1 901.8 972.4 906.8 975.8C911.9 979.1 909.3 977.4 914.4 980.8C919.5 984.1 917.0 982.5 922.1 985.8C927.2 989.1 924.6 987.4 929.7 990.7C934.9 993.9 932.3 992.3 937.4 995.5C942.6 998.7 940.0 997.2 945.2 1000.3C950.4 1003.5 947.8 1001.9 953.0 1005.0C958.2 1008.1 955.6 1006.6 960.8 1009.6C966.1 1012.6 963.4 1011.1 968.7 1014.0C974.0 1017.0 971.4 1015.5 976.7 1018.4C982.0 1021.2 979.3 1019.8 984.7 1022.6C990.0 1025.3 987.3 1024.0 992.8 1026.6C998.2 1029.2 995.4 1027.9 1000.9 1030.4C1006.3 1032.9 1003.6 1031.7 1009.1 1034.1C1014.6 1036.5 1011.8 1035.3 1017.4 1037.6C1022.9 1039.8 1020.1 1038.7 1025.7 1040.8C1031.3 1042.9 1028.5 1041.9 1034.1 1043.9C1039.8 1045.8 1036.9 1044.9 1042.6 1046.7C1048.3 1048.5 1045.4 1047.6 1051.2 1049.2C1056.9 1050.8 1054.1 1050.1 1059.8 1051.5C1065.6 1053.0 1062.7 1052.3 1068.6 1053.6C1074.4 1055.0 1071.5 1054.3 1077.4 1055.5C1083.2 1056.8 1080.3 1056.2 1086.2 1057.3C1092.1 1058.3 1089.1 1057.8 1095.1 1058.8C1101.0 1059.8 1098.1 1059.3 1104.0 1060.2C1110.0 1061.0 1107.0 1060.6 1113.0 1061.4C1119.0 1062.2 1116.0 1061.8 1122.0 1062.5C1128.1 1063.1 1125.0 1062.8 1131.1 1063.4C1137.1 1064.0 1134.1 1063.7 1140.2 1064.3C1146.2 1064.8 1143.2 1064.6 1149.3 1065.0C1155.3 1065.5 1152.3 1065.3 1158.4 1065.7C1164.4 1066.1 1161.4 1065.9 1167.5 1066.3C1173.6 1066.7 1170.5 1066.5 1176.6 1066.9C1182.7 1067.2 1179.7 1067.1 1185.7 1067.4C1191.8 1067.7 1188.8 1067.5 1194.8 1067.9C1200.9 1068.2 1197.9 1068.0 1203.9 1068.3C1210.0 1068.6 1207.0 1068.5 1213.0 1068.8C1219.1 1069.1 1216.1 1069.0 1222.1 1069.2C1228.1 1069.5 1225.1 1069.4 1231.2 1069.7C1237.2 1070.0 1234.2 1069.8 1240.2 1070.1C1246.2 1070.4 1243.2 1070.3 1249.2 1070.5C1255.3 1070.8 1252.2 1070.7 1258.3 1071.0C1264.3 1071.2 1261.3 1071.1 1267.3 1071.3C1273.3 1071.6 1270.3 1071.5 1276.3 1071.7C1282.3 1072.0 1279.3 1071.9 1285.3 1072.1C1291.3 1072.3 1288.3 1072.2 1294.3 1072.4C1300.3 1072.7 1297.3 1072.6 1303.3 1072.8C1309.3 1073.0 1306.3 1072.9 1312.3 1073.1C1318.3 1073.3 1315.3 1073.2 1321.3 1073.4C1327.3 1073.6 1324.3 1073.5 1330.3 1073.7C1336.2 1073.9 1333.2 1073.8 1339.2 1073.9C1345.2 1074.1 1342.2 1074.0 1348.2 1074.2C1354.2 1074.3 1351.2 1074.3 1357.2 1074.4C1363.2 1074.6 1360.2 1074.5 1366.2 1074.6C1372.2 1074.7 1369.2 1074.7 1375.2 1074.8C1381.2 1074.9 1378.2 1074.8 1384.2 1074.9C1390.2 1075.0 1387.2 1075.0 1393.2 1075.1C1399.3 1075.1 1396.2 1075.1 1402.3 1075.2C1408.3 1075.2 1405.3 1075.2 1411.3 1075.2C1417.3 1075.3 1414.3 1075.3 1420.3 1075.3C1426.4 1075.3 1423.3 1075.3 1429.4 1075.3C1435.4 1075.3 1432.4 1075.3 1438.5 1075.3C1444.5 1075.3 1441.5 1075.3 1447.5 1075.3C1453.6 1075.2 1450.6 1075.3 1456.6 1075.2C1462.7 1075.1 1459.7 1075.2 1465.7 1075.1C1471.8 1075.0 1468.8 1075.1 1474.9 1075.0C1480.9 1074.9 1481.0 1074.9 1484.0 1074.8" stroke-width="3.0" stroke-dasharray="5 8"/>
<path d="M190.0 451.0C190.5 454.0 190.5 454.0 191.5 460.1C192.4 466.2 191.9 463.1 193.0 469.2C194.0 475.2 193.5 472.2 194.5 478.2C195.5 484.2 195.0 481.2 196.1 487.2C197.2 493.2 196.6 490.2 197.7 496.2C198.9 502.2 198.3 499.2 199.4 505.1C200.6 511.1 200.0 508.1 201.2 514.1C202.4 520.0 201.8 517.0 203.0 522.9C204.2 528.9 203.6 525.9 204.9 531.8C206.1 537.7 205.5 534.8 206.8 540.6C208.1 546.5 207.4 543.6 208.8 549.4C210.1 555.3 209.4 552.4 210.8 558.2C212.2 564.1 211.5 561.2 212.9 567.0C214.4 572.8 213.6 569.9 215.1 575.7C216.6 581.5 215.8 578.6 217.3 584.4C218.8 590.3 218.1 587.4 219.6 593.2C221.2 598.9 220.4 596.1 222.0 601.8C223.6 607.6 222.8 604.7 224.5 610.5C226.1 616.3 225.3 613.4 227.0 619.2C228.7 624.9 227.8 622.0 229.5 627.8C231.3 633.6 230.4 630.7 232.2 636.4C234.0 642.2 233.1 639.3 234.9 645.0C236.8 650.8 235.9 647.9 237.8 653.6C239.7 659.4 238.7 656.5 240.6 662.2C242.6 668.0 241.6 665.1 243.6 670.8C245.6 676.5 244.6 673.7 246.7 679.4C248.7 685.1 247.7 682.3 249.8 688.0C251.9 693.7 250.9 690.8 253.0 696.6C255.2 702.3 254.1 699.4 256.3 705.1C258.6 710.8 257.4 708.0 259.7 713.7C262.0 719.4 260.9 716.5 263.2 722.2C265.6 727.9 264.4 725.1 266.9 730.7C269.3 736.4 268.1 733.6 270.6 739.2C273.2 744.8 271.9 742.0 274.5 747.5C277.2 753.1 275.8 750.3 278.6 755.8C281.3 761.2 279.9 758.5 282.8 763.9C285.7 769.3 284.2 766.6 287.2 771.9C290.3 777.2 288.7 774.6 291.9 779.7C295.0 784.9 293.4 782.4 296.7 787.4C300.0 792.5 298.3 790.0 301.8 794.9C305.3 799.8 303.5 797.4 307.1 802.1C310.8 806.9 308.9 804.6 312.7 809.2C316.6 813.8 314.6 811.5 318.6 815.9C322.6 820.4 320.6 818.2 324.8 822.4C329.0 826.7 326.8 824.6 331.2 828.7C335.7 832.7 333.4 830.7 338.0 834.6C342.7 838.4 340.3 836.5 345.1 840.1C350.0 843.7 347.5 842.0 352.6 845.4C357.7 848.7 355.1 847.1 360.5 850.2C365.8 853.3 363.1 851.9 368.6 854.7C374.2 857.4 371.4 856.2 377.1 858.6C382.8 861.0 380.0 859.9 385.8 861.8C391.6 863.7 388.7 863.0 394.6 864.3C400.5 865.7 397.6 865.2 403.5 865.9C409.4 866.6 406.5 866.4 412.4 866.4C418.3 866.4 415.3 866.6 421.2 865.9C427.0 865.2 424.1 865.7 429.9 864.4C435.7 863.0 432.8 863.8 438.5 862.0C444.3 860.1 441.4 861.1 447.1 858.8C452.8 856.6 449.9 857.8 455.6 855.2C461.2 852.6 458.4 853.9 464.0 851.0C469.6 848.2 466.8 849.6 472.4 846.7C477.9 843.7 475.1 845.2 480.7 842.3C486.3 839.3 483.5 840.7 489.1 838.0C494.6 835.2 491.8 836.5 497.5 834.0C503.1 831.5 500.2 832.6 505.9 830.6C511.6 828.5 508.7 829.3 514.5 827.8C520.2 826.3 517.3 826.9 523.1 826.0C528.9 825.2 526.0 825.5 531.9 825.3C537.8 825.1 534.8 825.0 540.7 825.4C546.6 825.9 543.7 825.5 549.6 826.5C555.5 827.5 552.6 826.9 558.4 828.4C564.2 829.9 561.4 829.0 567.1 831.0C572.9 833.0 570.0 831.9 575.6 834.3C581.3 836.7 578.5 835.4 583.9 838.2C589.4 840.9 586.7 839.5 592.0 842.5C597.3 845.6 594.7 844.0 599.9 847.3C605.1 850.6 602.5 848.9 607.6 852.4C612.8 855.8 610.2 854.1 615.3 857.6C620.4 861.1 617.8 859.4 622.9 862.9C627.9 866.5 625.4 864.8 630.5 868.2C635.5 871.7 633.0 870.0 638.1 873.4C643.2 876.7 640.6 875.1 645.8 878.3C651.0 881.5 648.3 879.9 653.6 882.9C658.8 885.9 656.2 884.5 661.5 887.2C666.8 890.0 664.1 888.7 669.5 891.2C675.0 893.7 672.2 892.5 677.7 894.8C683.2 897.2 680.4 896.1 686.0 898.1C691.6 900.2 688.8 899.2 694.5 901.0C700.2 902.9 697.3 902.0 703.1 903.6C708.9 905.1 706.0 904.4 711.9 905.7C717.8 907.0 714.9 906.4 720.8 907.5C726.8 908.6 723.8 908.1 729.8 909.1C735.9 910.1 732.9 909.6 738.9 910.5C745.0 911.5 742.0 911.0 748.0 911.9C754.1 912.8 751.1 912.3 757.1 913.3C763.2 914.2 760.2 913.7 766.2 914.8C772.2 915.8 769.2 915.2 775.2 916.4C781.1 917.6 778.2 917.0 784.1 918.4C789.9 919.8 787.0 919.0 792.8 920.6C798.6 922.3 795.7 921.4 801.4 923.3C807.1 925.2 804.3 924.2 809.9 926.4C815.4 928.5 812.7 927.4 818.2 929.7C823.7 932.1 820.9 930.9 826.3 933.4C831.8 936.0 829.1 934.7 834.4 937.4C839.8 940.1 837.1 938.7 842.4 941.6C847.7 944.5 845.0 943.0 850.3 946.0C855.5 949.0 852.9 947.5 858.0 950.6C863.2 953.8 860.6 952.2 865.8 955.4C870.9 958.6 868.3 957.0 873.4 960.3C878.5 963.6 876.0 961.9 881.1 965.3C886.1 968.6 883.6 966.9 888.7 970.3C893.7 973.7 891.2 972.0 896.2 975.4C901.3 978.9 898.7 977.2 903.8 980.6C908.8 984.0 906.3 982.3 911.3 985.7C916.4 989.1 913.8 987.4 918.9 990.8C923.9 994.2 921.4 992.5 926.5 995.9C931.6 999.3 929.0 997.6 934.1 1000.9C939.2 1004.3 936.6 1002.6 941.8 1005.9C946.9 1009.2 944.3 1007.6 949.5 1010.7C954.7 1013.9 952.1 1012.4 957.3 1015.5C962.5 1018.6 959.9 1017.1 965.2 1020.1C970.4 1023.1 967.8 1021.6 973.1 1024.5C978.5 1027.4 975.8 1026.0 981.2 1028.7C986.6 1031.5 983.9 1030.1 989.3 1032.8C994.8 1035.4 992.0 1034.1 997.6 1036.6C1003.1 1039.1 1000.3 1037.9 1005.9 1040.2C1011.5 1042.5 1008.7 1041.4 1014.3 1043.5C1020.0 1045.7 1017.1 1044.7 1022.8 1046.6C1028.5 1048.6 1025.7 1047.7 1031.4 1049.4C1037.2 1051.2 1034.3 1050.4 1040.1 1051.9C1046.0 1053.5 1043.0 1052.8 1048.9 1054.1C1054.8 1055.5 1051.9 1054.9 1057.8 1056.1C1063.7 1057.3 1060.8 1056.7 1066.7 1057.8C1072.7 1058.9 1069.7 1058.4 1075.7 1059.4C1081.7 1060.4 1078.7 1059.9 1084.7 1060.8C1090.7 1061.8 1087.7 1061.3 1093.7 1062.2C1099.7 1063.1 1096.7 1062.7 1102.7 1063.5C1108.7 1064.4 1105.7 1064.0 1111.7 1064.7C1117.7 1065.5 1114.7 1065.2 1120.7 1065.9C1126.7 1066.7 1123.7 1066.3 1129.7 1067.0C1135.7 1067.7 1132.7 1067.4 1138.7 1068.0C1144.8 1068.7 1141.8 1068.3 1147.8 1069.0C1153.8 1069.6 1150.8 1069.3 1156.8 1069.9C1162.9 1070.4 1159.8 1070.2 1165.9 1070.7C1171.9 1071.2 1168.9 1071.0 1174.9 1071.5C1181.0 1072.0 1177.9 1071.7 1184.0 1072.2C1190.0 1072.6 1187.0 1072.4 1193.1 1072.8C1199.1 1073.3 1196.1 1073.1 1202.1 1073.4C1208.2 1073.8 1205.1 1073.6 1211.2 1074.0C1217.3 1074.4 1214.2 1074.2 1220.3 1074.5C1226.3 1074.9 1223.3 1074.7 1229.4 1075.0C1235.4 1075.3 1232.4 1075.1 1238.4 1075.4C1244.5 1075.7 1241.5 1075.6 1247.5 1075.8C1253.6 1076.1 1250.6 1075.9 1256.6 1076.2C1262.7 1076.4 1259.7 1076.3 1265.7 1076.5C1271.8 1076.7 1268.8 1076.6 1274.8 1076.8C1280.9 1076.9 1277.9 1076.9 1283.9 1077.0C1290.0 1077.2 1287.0 1077.1 1293.0 1077.2C1299.1 1077.4 1296.1 1077.3 1302.1 1077.4C1308.2 1077.6 1305.2 1077.5 1311.2 1077.6C1317.3 1077.7 1314.3 1077.7 1320.3 1077.8C1326.4 1077.9 1323.4 1077.8 1329.4 1077.9C1335.5 1078.0 1332.5 1078.0 1338.5 1078.0C1344.6 1078.1 1341.6 1078.1 1347.7 1078.1C1353.7 1078.2 1350.7 1078.2 1356.8 1078.2C1362.8 1078.3 1359.8 1078.3 1365.9 1078.3C1371.9 1078.4 1368.9 1078.3 1375.0 1078.4C1381.0 1078.4 1378.0 1078.4 1384.1 1078.5C1390.1 1078.5 1387.1 1078.5 1393.2 1078.5C1399.2 1078.6 1396.2 1078.6 1402.3 1078.6C1408.3 1078.6 1405.3 1078.6 1411.4 1078.7C1417.4 1078.7 1414.4 1078.7 1420.4 1078.7C1426.5 1078.8 1423.5 1078.8 1429.5 1078.8C1435.6 1078.9 1432.6 1078.9 1438.6 1078.9C1444.7 1079.0 1441.7 1079.0 1447.7 1079.0C1453.8 1079.1 1450.7 1079.1 1456.8 1079.1C1462.8 1079.2 1459.8 1079.2 1465.9 1079.3C1471.9 1079.4 1468.9 1079.3 1474.9 1079.4C1481.0 1079.5 1481.0 1079.5 1484.0 1079.6" stroke-width="3.8"/>
<path d="M190.0 451.0C190.7 454.0 190.7 454.0 192.0 459.9C193.4 465.8 192.7 462.8 194.1 468.7C195.4 474.6 194.7 471.7 196.1 477.6C197.5 483.5 196.8 480.6 198.1 486.5C199.5 492.4 198.8 489.4 200.2 495.3C201.6 501.2 200.9 498.3 202.3 504.2C203.7 510.1 203.0 507.1 204.4 513.0C205.8 518.9 205.1 516.0 206.5 521.9C207.9 527.8 207.2 524.8 208.6 530.7C210.1 536.6 209.4 533.7 210.8 539.5C212.3 545.4 211.5 542.5 213.0 548.4C214.5 554.3 213.7 551.3 215.2 557.2C216.7 563.1 216.0 560.1 217.5 566.0C219.0 571.9 218.2 568.9 219.8 574.8C221.3 580.6 220.6 577.7 222.1 583.6C223.7 589.4 222.9 586.5 224.5 592.3C226.1 598.2 225.3 595.3 226.9 601.1C228.6 606.9 227.7 604.0 229.4 609.8C231.1 615.6 230.2 612.7 231.9 618.6C233.6 624.4 232.8 621.5 234.5 627.3C236.3 633.1 235.4 630.2 237.2 635.9C238.9 641.7 238.0 638.8 239.8 644.6C241.7 650.4 240.7 647.5 242.6 653.3C244.5 659.0 243.5 656.2 245.4 661.9C247.3 667.6 246.4 664.8 248.3 670.5C250.2 676.2 249.3 673.4 251.3 679.1C253.2 684.8 252.2 682.0 254.3 687.7C256.3 693.4 255.3 690.5 257.4 696.2C259.5 701.9 258.4 699.0 260.6 704.7C262.7 710.4 261.6 707.6 263.8 713.2C266.0 718.8 264.9 716.0 267.2 721.7C269.4 727.3 268.3 724.5 270.6 730.1C273.0 735.7 271.8 732.9 274.2 738.4C276.6 744.0 275.4 741.2 277.9 746.7C280.4 752.2 279.1 749.5 281.7 755.0C284.3 760.4 283.0 757.7 285.6 763.1C288.3 768.5 287.0 765.8 289.8 771.2C292.6 776.6 291.1 773.9 294.1 779.2C297.0 784.5 295.5 781.9 298.5 787.1C301.6 792.3 300.0 789.7 303.2 794.9C306.4 800.0 304.7 797.5 308.1 802.5C311.5 807.5 309.8 805.0 313.4 809.9C317.1 814.8 315.2 812.4 319.1 817.2C323.0 821.9 320.9 819.6 325.1 824.1C329.2 828.6 327.1 826.4 331.4 830.7C335.8 835.0 333.6 833.0 338.2 837.0C342.8 841.0 340.4 839.1 345.3 842.8C350.1 846.6 347.6 844.8 352.7 848.2C357.7 851.6 355.2 850.0 360.4 853.1C365.7 856.1 363.0 854.7 368.5 857.3C374.0 860.0 371.2 858.8 376.9 861.0C382.5 863.2 379.7 862.2 385.4 863.9C391.1 865.6 388.3 864.9 394.1 866.1C399.9 867.2 397.0 866.8 402.8 867.4C408.7 867.9 405.8 867.8 411.6 867.7C417.4 867.6 414.5 867.8 420.3 867.1C426.1 866.4 423.2 866.8 429.0 865.6C434.8 864.3 431.9 865.0 437.6 863.3C443.4 861.5 440.5 862.5 446.2 860.3C451.9 858.2 449.1 859.3 454.8 856.9C460.5 854.4 457.6 855.7 463.3 853.0C469.0 850.3 466.1 851.6 471.8 848.9C477.4 846.1 474.6 847.4 480.2 844.7C485.9 842.0 483.1 843.2 488.7 840.6C494.3 838.1 491.5 839.2 497.2 836.9C502.8 834.6 500.0 835.6 505.7 833.7C511.3 831.8 508.5 832.6 514.2 831.2C519.9 829.9 517.0 830.4 522.8 829.6C528.5 828.9 525.7 829.1 531.4 829.0C537.2 828.9 534.3 828.8 540.1 829.3C545.8 829.8 543.0 829.5 548.7 830.5C554.5 831.5 551.6 830.9 557.3 832.4C563.0 833.9 560.2 833.1 565.9 834.9C571.5 836.8 568.7 835.8 574.3 838.1C579.9 840.3 577.1 839.1 582.6 841.6C588.1 844.2 585.4 842.9 590.8 845.6C596.2 848.4 593.5 846.9 598.8 849.9C604.1 852.8 601.5 851.3 606.7 854.4C612.0 857.6 609.4 856.0 614.6 859.2C619.8 862.4 617.2 860.8 622.4 864.1C627.6 867.4 625.0 865.7 630.2 869.1C635.4 872.4 632.8 870.7 637.9 874.0C643.1 877.3 640.5 875.7 645.7 879.0C650.9 882.2 648.3 880.6 653.5 883.8C658.8 886.9 656.1 885.4 661.4 888.4C666.7 891.4 664.1 890.0 669.4 892.8C674.7 895.7 672.0 894.3 677.5 896.9C682.9 899.6 680.2 898.3 685.7 900.7C691.2 903.1 688.4 902.0 694.0 904.0C699.7 906.1 696.8 905.1 702.6 906.9C708.3 908.6 705.4 907.8 711.3 909.2C717.2 910.6 714.2 909.9 720.2 911.1C726.1 912.2 723.2 911.7 729.2 912.6C735.2 913.6 732.2 913.1 738.3 914.0C744.3 914.8 741.3 914.4 747.4 915.2C753.5 916.0 750.4 915.6 756.5 916.4C762.6 917.3 759.6 916.8 765.6 917.7C771.6 918.7 768.6 918.1 774.6 919.2C780.6 920.3 777.6 919.7 783.5 921.0C789.4 922.3 786.5 921.6 792.3 923.2C798.1 924.8 795.2 923.9 800.9 925.8C806.6 927.7 803.8 926.7 809.3 928.9C814.9 931.1 812.2 930.0 817.6 932.4C823.1 934.8 820.4 933.5 825.8 936.2C831.2 938.8 828.5 937.5 833.9 940.3C839.2 943.1 836.5 941.7 841.8 944.7C847.0 947.7 844.4 946.2 849.6 949.3C854.8 952.4 852.2 950.8 857.4 954.1C862.5 957.3 860.0 955.7 865.1 959.0C870.2 962.4 867.6 960.7 872.7 964.1C877.8 967.5 875.3 965.8 880.3 969.2C885.4 972.6 882.9 970.9 887.9 974.3C892.9 977.8 890.4 976.1 895.4 979.5C900.5 982.9 898.0 981.2 903.0 984.7C908.0 988.1 905.5 986.4 910.5 989.8C915.6 993.2 913.1 991.5 918.1 994.9C923.2 998.3 920.6 996.6 925.7 999.9C930.8 1003.3 928.2 1001.6 933.3 1004.9C938.5 1008.2 935.9 1006.6 941.0 1009.8C946.2 1013.0 943.6 1011.4 948.8 1014.5C954.0 1017.7 951.4 1016.1 956.6 1019.2C961.8 1022.2 959.2 1020.7 964.5 1023.6C969.8 1026.6 967.2 1025.1 972.5 1028.0C977.9 1030.8 975.2 1029.4 980.6 1032.1C986.0 1034.8 983.3 1033.5 988.8 1036.0C994.3 1038.6 991.5 1037.4 997.1 1039.8C1002.6 1042.2 999.9 1041.0 1005.5 1043.3C1011.1 1045.5 1008.3 1044.5 1013.9 1046.5C1019.6 1048.6 1016.8 1047.6 1022.5 1049.6C1028.2 1051.5 1025.3 1050.6 1031.1 1052.3C1036.9 1054.0 1034.0 1053.2 1039.9 1054.7C1045.7 1056.3 1042.8 1055.5 1048.7 1056.9C1054.6 1058.2 1051.6 1057.6 1057.6 1058.8C1063.5 1060.0 1060.5 1059.4 1066.5 1060.5C1072.5 1061.5 1069.5 1061.0 1075.5 1062.0C1081.5 1063.0 1078.5 1062.5 1084.5 1063.4C1090.5 1064.4 1087.5 1063.9 1093.5 1064.8C1099.5 1065.7 1096.5 1065.2 1102.5 1066.1C1108.5 1066.9 1105.5 1066.5 1111.5 1067.3C1117.5 1068.0 1114.5 1067.7 1120.5 1068.4C1126.5 1069.1 1123.5 1068.8 1129.6 1069.5C1135.6 1070.1 1132.6 1069.8 1138.6 1070.5C1144.6 1071.1 1141.6 1070.8 1147.6 1071.4C1153.7 1072.0 1150.7 1071.7 1156.7 1072.2C1162.7 1072.8 1159.7 1072.5 1165.7 1073.1C1171.8 1073.6 1168.8 1073.3 1174.8 1073.8C1180.8 1074.3 1177.8 1074.1 1183.9 1074.5C1189.9 1075.0 1186.9 1074.7 1192.9 1075.2C1199.0 1075.6 1196.0 1075.4 1202.0 1075.7C1208.1 1076.1 1205.0 1075.9 1211.1 1076.3C1217.2 1076.6 1214.1 1076.5 1220.2 1076.8C1226.2 1077.1 1223.2 1077.0 1229.3 1077.3C1235.3 1077.6 1232.3 1077.4 1238.4 1077.7C1244.4 1077.9 1241.4 1077.8 1247.5 1078.1C1253.5 1078.3 1250.5 1078.2 1256.5 1078.4C1262.6 1078.6 1259.6 1078.5 1265.6 1078.7C1271.7 1078.9 1268.7 1078.8 1274.7 1079.0C1280.8 1079.2 1277.8 1079.1 1283.8 1079.2C1289.9 1079.4 1286.9 1079.3 1293.0 1079.5C1299.0 1079.6 1296.0 1079.5 1302.1 1079.7C1308.1 1079.8 1305.1 1079.7 1311.2 1079.8C1317.2 1080.0 1314.2 1079.9 1320.3 1080.0C1326.3 1080.1 1323.3 1080.1 1329.4 1080.1C1335.5 1080.2 1332.4 1080.2 1338.5 1080.3C1344.6 1080.3 1341.5 1080.3 1347.6 1080.4C1353.7 1080.5 1350.6 1080.4 1356.7 1080.5C1362.8 1080.6 1359.7 1080.5 1365.8 1080.6C1371.9 1080.6 1368.8 1080.6 1374.9 1080.7C1381.0 1080.7 1378.0 1080.7 1384.0 1080.8C1390.1 1080.8 1387.1 1080.8 1393.1 1080.8C1399.2 1080.9 1396.2 1080.9 1402.2 1080.9C1408.3 1081.0 1405.3 1081.0 1411.3 1081.0C1417.4 1081.1 1414.4 1081.1 1420.4 1081.1C1426.5 1081.2 1423.5 1081.2 1429.5 1081.2C1435.6 1081.3 1432.5 1081.3 1438.6 1081.3C1444.7 1081.4 1441.6 1081.4 1447.7 1081.5C1453.7 1081.6 1450.7 1081.5 1456.8 1081.6C1462.8 1081.7 1459.8 1081.7 1465.9 1081.8C1471.9 1081.9 1468.9 1081.8 1474.9 1082.0C1481.0 1082.1 1481.0 1082.1 1484.0 1082.2" stroke-width="3.4"/>
<path d="M190.0 542.0C191.1 544.8 191.2 544.7 193.3 550.3C195.5 555.8 194.4 553.0 196.5 558.6C198.5 564.2 197.5 561.4 199.5 567.1C201.5 572.7 200.5 569.9 202.4 575.6C204.3 581.3 203.4 578.4 205.2 584.2C207.1 589.9 206.2 587.1 208.0 592.8C209.8 598.6 208.9 595.7 210.6 601.5C212.4 607.4 211.5 604.5 213.3 610.3C215.0 616.1 214.1 613.2 215.8 619.1C217.6 624.9 216.7 622.0 218.4 627.9C220.1 633.7 219.3 630.8 221.0 636.7C222.7 642.6 221.8 639.6 223.5 645.5C225.3 651.4 224.4 648.4 226.1 654.3C227.9 660.2 227.0 657.2 228.8 663.1C230.6 668.9 229.6 666.0 231.5 671.8C233.3 677.7 232.4 674.7 234.2 680.5C236.1 686.3 235.2 683.5 237.1 689.2C239.1 695.0 238.1 692.1 240.1 697.8C242.1 703.5 241.1 700.7 243.2 706.4C245.3 712.0 244.2 709.2 246.4 714.8C248.6 720.4 247.5 717.7 249.8 723.2C252.1 728.8 250.9 726.0 253.3 731.5C255.7 737.0 254.5 734.3 257.0 739.7C259.6 745.1 258.3 742.4 261.0 747.7C263.7 753.0 262.3 750.4 265.1 755.6C268.0 760.9 266.5 758.3 269.5 763.4C272.5 768.6 271.0 766.0 274.1 771.1C277.3 776.2 275.6 773.7 278.9 778.6C282.2 783.6 280.6 781.2 284.0 786.1C287.4 791.0 285.7 788.5 289.3 793.4C292.9 798.2 291.0 795.8 294.8 800.6C298.5 805.3 296.6 803.0 300.5 807.7C304.4 812.4 302.4 810.0 306.5 814.7C310.5 819.3 308.5 817.0 312.6 821.6C316.8 826.2 314.7 823.9 319.0 828.4C323.3 832.9 321.1 830.7 325.6 835.2C330.1 839.6 327.8 837.5 332.4 841.8C337.0 846.1 334.7 844.0 339.4 848.1C344.2 852.2 341.8 850.2 346.7 854.1C351.6 857.9 349.1 856.1 354.2 859.5C359.2 863.0 356.7 861.4 361.9 864.5C367.1 867.5 364.5 866.1 369.8 868.7C375.2 871.2 372.5 870.1 378.1 872.1C383.6 874.1 380.8 873.3 386.5 874.7C392.2 876.1 389.4 875.5 395.2 876.3C401.0 877.2 398.1 876.9 404.0 877.2C410.0 877.5 407.0 877.4 413.0 877.2C419.0 877.0 416.0 877.2 422.0 876.5C428.0 875.8 425.0 876.3 431.0 875.1C436.9 874.0 434.0 874.6 439.9 873.1C445.8 871.6 442.9 872.4 448.7 870.5C454.6 868.7 451.7 869.6 457.5 867.6C463.3 865.6 460.4 866.5 466.2 864.5C472.0 862.4 469.1 863.3 474.8 861.4C480.6 859.4 477.7 860.3 483.5 858.5C489.3 856.8 486.4 857.5 492.3 856.2C498.1 854.8 495.2 855.3 501.1 854.5C507.0 853.6 504.0 853.9 510.0 853.6C516.0 853.3 513.0 853.3 519.0 853.5C525.0 853.7 522.0 853.5 528.0 854.1C534.0 854.8 531.0 854.4 537.0 855.4C543.0 856.4 540.0 855.8 546.0 857.2C551.9 858.6 549.0 857.8 554.8 859.5C560.7 861.1 557.8 860.3 563.6 862.2C569.4 864.1 566.5 863.1 572.2 865.2C578.0 867.3 575.1 866.2 580.8 868.5C586.4 870.7 583.6 869.6 589.2 871.9C594.8 874.2 592.0 873.1 597.6 875.5C603.2 877.8 600.4 876.7 606.0 879.0C611.6 881.4 608.8 880.2 614.4 882.5C620.0 884.8 617.2 883.7 622.8 885.9C628.5 888.1 625.6 887.0 631.3 889.1C637.0 891.1 634.1 890.1 639.8 892.1C645.5 894.0 642.7 893.1 648.4 894.9C654.2 896.8 651.3 895.9 657.1 897.6C662.8 899.3 659.9 898.5 665.7 900.1C671.5 901.8 668.6 901.0 674.5 902.5C680.3 904.1 677.4 903.3 683.2 904.8C689.1 906.3 686.2 905.6 692.1 907.0C697.9 908.4 695.0 907.7 700.9 909.1C706.8 910.4 703.9 909.8 709.8 911.1C715.7 912.4 712.8 911.7 718.7 913.0C724.7 914.2 721.7 913.6 727.6 914.9C733.6 916.1 730.6 915.5 736.6 916.7C742.5 918.0 739.6 917.4 745.5 918.7C751.4 920.0 748.5 919.3 754.3 920.8C760.2 922.2 757.3 921.4 763.1 923.0C769.0 924.5 766.1 923.7 771.9 925.4C777.6 927.1 774.8 926.2 780.5 928.1C786.2 930.0 783.3 929.0 789.0 931.0C794.6 933.1 791.8 932.0 797.3 934.4C802.8 936.7 800.1 935.5 805.5 938.0C810.9 940.5 808.2 939.2 813.6 941.9C819.0 944.6 816.3 943.2 821.6 946.1C826.9 948.9 824.2 947.5 829.5 950.4C834.7 953.4 832.1 951.9 837.3 955.0C842.5 958.1 839.9 956.6 845.1 959.7C850.2 962.9 847.6 961.3 852.8 964.6C857.9 967.9 855.4 966.2 860.5 969.5C865.6 972.8 863.0 971.2 868.1 974.5C873.2 977.9 870.7 976.2 875.8 979.5C880.9 982.9 878.3 981.2 883.5 984.5C888.6 987.9 886.0 986.2 891.2 989.5C896.3 992.8 893.7 991.2 898.9 994.4C904.1 997.6 901.5 996.0 906.7 999.2C911.9 1002.3 909.3 1000.8 914.6 1003.8C919.8 1006.9 917.2 1005.4 922.5 1008.3C927.8 1011.3 925.1 1009.9 930.5 1012.7C935.8 1015.6 933.1 1014.2 938.5 1017.0C943.9 1019.7 941.2 1018.4 946.6 1021.0C952.1 1023.7 949.4 1022.4 954.8 1024.9C960.3 1027.5 957.6 1026.2 963.1 1028.7C968.6 1031.1 965.9 1029.9 971.4 1032.2C977.0 1034.5 974.2 1033.4 979.9 1035.6C985.5 1037.7 982.7 1036.7 988.3 1038.8C994.0 1040.8 991.2 1039.8 996.9 1041.8C1002.6 1043.7 999.7 1042.8 1005.5 1044.6C1011.2 1046.5 1008.4 1045.6 1014.1 1047.3C1019.9 1049.1 1017.0 1048.2 1022.8 1049.9C1028.7 1051.6 1025.7 1050.7 1031.6 1052.3C1037.4 1053.9 1034.5 1053.1 1040.4 1054.6C1046.2 1056.0 1043.3 1055.3 1049.2 1056.7C1055.1 1058.1 1052.1 1057.4 1058.1 1058.7C1064.0 1060.0 1061.0 1059.4 1066.9 1060.6C1072.9 1061.8 1069.9 1061.3 1075.8 1062.4C1081.8 1063.5 1078.8 1063.0 1084.8 1064.1C1090.7 1065.1 1087.7 1064.6 1093.7 1065.6C1099.7 1066.6 1096.7 1066.1 1102.6 1067.1C1108.6 1068.0 1105.6 1067.6 1111.6 1068.4C1117.6 1069.3 1114.6 1068.9 1120.6 1069.7C1126.6 1070.5 1123.6 1070.1 1129.6 1070.9C1135.6 1071.6 1132.6 1071.3 1138.6 1072.0C1144.6 1072.6 1141.6 1072.3 1147.6 1073.0C1153.6 1073.6 1150.6 1073.3 1156.6 1073.9C1162.7 1074.5 1159.7 1074.2 1165.7 1074.7C1171.7 1075.2 1168.7 1075.0 1174.7 1075.5C1180.8 1076.0 1177.8 1075.7 1183.8 1076.2C1189.8 1076.6 1186.8 1076.4 1192.9 1076.8C1198.9 1077.2 1195.9 1077.0 1201.9 1077.4C1208.0 1077.7 1205.0 1077.6 1211.0 1077.9C1217.1 1078.2 1214.1 1078.1 1220.1 1078.3C1226.2 1078.6 1223.1 1078.5 1229.2 1078.7C1235.3 1079.0 1232.2 1078.9 1238.3 1079.1C1244.4 1079.3 1241.4 1079.2 1247.4 1079.4C1253.5 1079.6 1250.5 1079.5 1256.5 1079.7C1262.6 1079.8 1259.6 1079.8 1265.7 1079.9C1271.7 1080.0 1268.7 1080.0 1274.8 1080.1C1280.9 1080.2 1277.8 1080.1 1283.9 1080.2C1290.0 1080.3 1286.9 1080.3 1293.0 1080.4C1299.1 1080.5 1296.1 1080.4 1302.1 1080.5C1308.2 1080.6 1305.2 1080.5 1311.3 1080.6C1317.4 1080.6 1314.3 1080.6 1320.4 1080.7C1326.5 1080.7 1323.4 1080.7 1329.5 1080.7C1335.6 1080.8 1332.6 1080.7 1338.7 1080.8C1344.7 1080.8 1341.7 1080.8 1347.8 1080.8C1353.9 1080.8 1350.8 1080.8 1356.9 1080.9C1363.0 1080.9 1359.9 1080.9 1366.0 1080.9C1372.1 1080.9 1369.1 1080.9 1375.1 1080.9C1381.2 1081.0 1378.2 1081.0 1384.2 1081.0C1390.3 1081.0 1387.3 1081.0 1393.3 1081.1C1399.4 1081.1 1396.4 1081.1 1402.4 1081.2C1408.5 1081.2 1405.5 1081.2 1411.5 1081.3C1417.6 1081.3 1414.6 1081.3 1420.6 1081.4C1426.7 1081.5 1423.7 1081.4 1429.7 1081.5C1435.8 1081.7 1432.7 1081.6 1438.8 1081.7C1444.8 1081.9 1441.8 1081.8 1447.8 1081.9C1453.9 1082.1 1450.9 1082.0 1456.9 1082.2C1462.9 1082.4 1459.9 1082.3 1465.9 1082.5C1472.0 1082.7 1469.0 1082.6 1475.0 1082.8C1481.0 1083.1 1481.0 1083.1 1484.0 1083.2" stroke-width="2.9"/>
<path d="M190.0 440.0C190.5 443.0 190.5 443.0 191.6 448.9C192.6 454.9 192.1 451.9 193.2 457.9C194.3 463.8 193.8 460.9 194.9 466.8C196.1 472.7 195.5 469.8 196.8 475.7C198.0 481.6 197.4 478.6 198.6 484.6C199.9 490.5 199.3 487.5 200.6 493.4C201.9 499.3 201.2 496.4 202.6 502.3C204.0 508.2 203.3 505.2 204.7 511.1C206.1 517.0 205.4 514.0 206.9 519.9C208.4 525.8 207.6 522.9 209.1 528.7C210.6 534.6 209.9 531.6 211.4 537.5C213.0 543.3 212.2 540.4 213.8 546.3C215.4 552.1 214.6 549.2 216.2 555.0C217.9 560.8 217.0 557.9 218.7 563.7C220.4 569.6 219.6 566.7 221.3 572.5C223.0 578.3 222.1 575.4 223.9 581.2C225.7 587.0 224.8 584.1 226.6 589.8C228.4 595.6 227.5 592.7 229.3 598.5C231.1 604.3 230.2 601.4 232.1 607.2C233.9 612.9 233.0 610.1 234.9 615.8C236.8 621.6 235.8 618.7 237.8 624.4C239.7 630.2 238.7 627.3 240.7 633.0C242.7 638.8 241.7 635.9 243.7 641.6C245.7 647.4 244.7 644.5 246.7 650.2C248.8 655.9 247.7 653.1 249.8 658.8C251.9 664.5 250.8 661.6 252.9 667.3C255.0 673.0 253.9 670.2 256.1 675.8C258.2 681.5 257.1 678.7 259.3 684.3C261.4 690.0 260.3 687.2 262.6 692.8C264.8 698.4 263.7 695.6 266.0 701.2C268.2 706.8 267.1 704.1 269.4 709.6C271.8 715.2 270.6 712.4 273.1 717.9C275.5 723.4 274.3 720.7 276.8 726.1C279.4 731.6 278.1 728.9 280.8 734.2C283.5 739.6 282.1 736.9 284.9 742.2C287.7 747.6 286.3 744.9 289.2 750.2C292.2 755.4 290.7 752.8 293.8 757.9C296.9 763.1 295.3 760.5 298.6 765.6C301.8 770.6 300.1 768.1 303.6 773.1C307.0 778.0 305.3 775.6 308.9 780.4C312.5 785.2 312.6 785.2 314.4 787.6" stroke-width="3.3"/>
<path d="M314.4 787.6C316.4 789.9 316.3 790.0 320.3 794.6C324.3 799.2 322.2 796.9 326.4 801.4C330.6 805.8 328.4 803.6 332.8 808.0C337.2 812.3 334.9 810.2 339.5 814.3C344.1 818.5 341.7 816.5 346.5 820.5C351.3 824.5 348.8 822.6 353.8 826.3C358.8 830.1 356.2 828.3 361.4 831.7C366.5 835.1 363.9 833.5 369.2 836.5C374.5 839.5 371.8 838.2 377.3 840.7C382.8 843.2 380.0 842.1 385.6 844.0C391.3 846.0 388.4 845.2 394.2 846.5C400.0 847.8 397.1 847.3 402.9 847.9C408.8 848.5 405.9 848.3 411.9 848.2C417.8 848.1 414.9 848.3 420.8 847.6C426.8 846.9 423.9 847.3 429.8 846.0C435.7 844.7 432.8 845.5 438.6 843.6C444.5 841.8 441.6 842.8 447.3 840.5C453.0 838.3 450.1 839.4 455.7 837.0C461.4 834.6 458.6 835.7 464.1 833.3C469.7 830.8 466.9 832.0 472.5 829.6C478.1 827.3 475.3 828.4 480.9 826.2C486.5 824.1 483.7 825.0 489.4 823.3C495.1 821.5 492.2 822.2 498.0 820.9C503.9 819.5 500.9 820.1 506.9 819.2C512.8 818.3 509.9 818.7 515.9 818.3C521.9 817.9 518.9 818.0 525.0 818.1C531.1 818.2 528.0 818.0 534.1 818.6C540.1 819.1 537.2 818.7 543.1 819.8C549.1 820.8 546.2 820.2 552.0 821.7C557.9 823.1 555.0 822.3 560.7 824.2C566.4 826.2 563.6 825.2 569.1 827.5C574.7 829.9 571.9 828.6 577.3 831.3C582.7 834.0 580.0 832.6 585.4 835.5C590.7 838.4 588.0 837.0 593.3 839.9C598.6 842.9 595.9 841.5 601.2 844.5C606.5 847.4 603.8 846.0 609.1 848.9C614.4 851.8 611.8 850.4 617.1 853.2C622.5 855.9 619.8 854.6 625.3 857.1C630.7 859.6 628.0 858.4 633.5 860.7C639.0 863.0 636.3 861.9 641.9 864.0C647.5 866.1 644.6 865.1 650.3 867.0C656.0 868.9 653.1 868.0 658.9 869.8C664.6 871.6 661.7 870.7 667.5 872.4C673.3 874.0 670.4 873.2 676.2 874.8C682.1 876.3 679.1 875.6 685.0 877.0C690.9 878.5 688.0 877.7 693.9 879.1C699.8 880.5 696.8 879.8 702.7 881.1C708.7 882.5 705.7 881.8 711.7 883.1C717.6 884.4 714.6 883.7 720.6 885.0C726.6 886.3 723.6 885.6 729.6 886.9C735.6 888.1 732.6 887.5 738.6 888.8C744.5 890.1 741.6 889.4 747.5 890.7C753.5 892.1 750.5 891.4 756.5 892.8C762.4 894.2 759.5 893.4 765.4 894.9C771.3 896.4 768.3 895.6 774.2 897.2C780.1 898.8 777.2 898.0 783.0 899.7C788.8 901.5 785.9 900.5 791.6 902.4C797.4 904.3 794.5 903.3 800.2 905.4C805.8 907.5 803.0 906.4 808.6 908.6C814.2 910.9 811.4 909.7 816.9 912.2C822.3 914.7 819.6 913.4 825.0 916.1C830.3 918.8 827.7 917.4 832.9 920.4C838.2 923.4 835.6 921.8 840.7 925.0C845.8 928.2 843.3 926.6 848.4 929.9C853.4 933.2 850.9 931.6 855.9 935.0C860.9 938.4 858.4 936.7 863.4 940.2C868.4 943.7 865.9 942.0 870.9 945.5C875.9 949.0 873.4 947.3 878.4 950.8C883.4 954.3 880.9 952.6 885.9 956.0C890.9 959.4 888.4 957.7 893.5 961.1C898.6 964.4 896.0 962.8 901.2 965.9C906.3 969.1 903.7 967.6 909.0 970.6C914.2 973.6 911.6 972.2 916.8 975.1C922.1 978.0 919.5 976.6 924.8 979.3C930.2 982.1 927.5 980.8 932.9 983.4C938.3 986.1 935.6 984.8 941.1 987.4C946.5 989.9 943.8 988.7 949.3 991.1C954.8 993.6 952.0 992.4 957.6 994.8C963.1 997.1 960.3 996.0 965.9 998.3C971.5 1000.5 968.7 999.4 974.4 1001.6C980.0 1003.8 977.2 1002.7 982.8 1004.9C988.5 1007.0 988.5 1006.9 991.3 1008.0" stroke-width="2.8"/>
<path d="M991.3 1008.0C994.2 1009.0 994.2 1009.0 999.9 1011.0C1005.6 1013.0 1002.8 1012.0 1008.5 1014.0C1014.2 1015.9 1011.4 1015.0 1017.1 1016.8C1022.9 1018.7 1020.0 1017.8 1025.8 1019.6C1031.6 1021.4 1028.7 1020.5 1034.5 1022.3C1040.3 1024.1 1037.4 1023.2 1043.2 1024.9C1049.0 1026.6 1046.1 1025.8 1051.9 1027.4C1057.8 1029.0 1054.9 1028.2 1060.7 1029.8C1066.6 1031.4 1063.6 1030.6 1069.5 1032.1C1075.4 1033.6 1072.4 1032.9 1078.3 1034.3C1084.2 1035.8 1081.3 1035.1 1087.2 1036.4C1093.1 1037.8 1090.1 1037.1 1096.0 1038.4C1101.9 1039.7 1099.0 1039.1 1104.9 1040.4C1110.8 1041.6 1107.9 1041.0 1113.8 1042.2C1119.7 1043.3 1116.8 1042.8 1122.7 1043.9C1128.7 1045.0 1125.7 1044.5 1131.6 1045.5C1137.6 1046.6 1134.6 1046.0 1140.6 1047.0C1146.5 1048.0 1143.6 1047.6 1149.5 1048.5C1155.5 1049.4 1152.5 1049.0 1158.5 1049.9C1164.5 1050.7 1161.5 1050.3 1167.5 1051.1C1173.5 1052.0 1170.5 1051.6 1176.5 1052.3C1182.5 1053.1 1179.5 1052.7 1185.5 1053.5C1191.5 1054.2 1188.5 1053.8 1194.5 1054.5C1200.5 1055.2 1197.5 1054.9 1203.5 1055.5C1209.5 1056.2 1206.5 1055.9 1212.5 1056.4C1218.6 1057.0 1215.6 1056.8 1221.6 1057.3C1227.6 1057.9 1224.6 1057.6 1230.6 1058.1C1236.7 1058.6 1233.7 1058.4 1239.7 1058.9C1245.7 1059.3 1242.7 1059.1 1248.8 1059.6C1254.8 1060.0 1251.8 1059.8 1257.8 1060.2C1263.9 1060.6 1260.9 1060.4 1266.9 1060.8C1273.0 1061.2 1270.0 1061.0 1276.0 1061.3C1282.1 1061.7 1279.0 1061.5 1285.1 1061.9C1291.2 1062.2 1288.1 1062.0 1294.2 1062.3C1300.3 1062.6 1297.2 1062.5 1303.3 1062.8C1309.4 1063.1 1306.3 1062.9 1312.4 1063.2C1318.5 1063.4 1315.4 1063.3 1321.5 1063.6C1327.6 1063.8 1324.5 1063.7 1330.6 1063.9C1336.7 1064.1 1333.6 1064.0 1339.7 1064.2C1345.8 1064.5 1342.7 1064.4 1348.8 1064.6C1354.9 1064.8 1351.8 1064.7 1357.9 1064.9C1364.0 1065.0 1360.9 1065.0 1367.0 1065.1C1373.1 1065.3 1370.1 1065.2 1376.1 1065.4C1382.2 1065.6 1379.2 1065.5 1385.2 1065.7C1391.3 1065.8 1388.3 1065.8 1394.3 1065.9C1400.4 1066.1 1397.3 1066.0 1403.4 1066.2C1409.5 1066.4 1406.4 1066.3 1412.5 1066.5C1418.6 1066.6 1415.5 1066.5 1421.6 1066.7C1427.6 1066.9 1424.6 1066.8 1430.7 1067.0C1436.7 1067.2 1433.7 1067.1 1439.7 1067.3C1445.8 1067.5 1442.8 1067.4 1448.8 1067.6C1454.9 1067.8 1451.8 1067.7 1457.9 1067.9C1463.9 1068.1 1460.9 1068.0 1466.9 1068.2C1473.0 1068.5 1469.9 1068.4 1476.0 1068.6C1482.0 1068.9 1482.0 1068.9 1485.0 1069.0" stroke-width="4.2"/>
<path d="M686.0 820.0C687.4 823.2 687.1 823.3 690.1 829.5C693.0 835.7 691.4 832.7 694.8 838.5C698.2 844.3 696.4 841.5 700.2 847.0C704.1 852.5 702.1 849.9 706.3 855.1C710.5 860.3 708.3 857.7 712.9 862.6C717.5 867.5 715.1 865.1 720.0 869.7C724.9 874.2 722.4 872.0 727.6 876.3C732.8 880.5 730.2 878.5 735.6 882.4C741.1 886.3 738.3 884.4 744.0 888.0C749.7 891.6 746.8 889.9 752.8 893.2C758.7 896.4 755.7 894.9 761.8 897.8C767.8 900.8 764.8 899.4 771.0 902.0C777.2 904.7 774.1 903.4 780.4 905.7C786.8 908.1 786.8 907.9 790.0 909.0" stroke-width="5.0" stroke-linecap="round"/>
<path d="M790.0 911.8C792.9 913.2 792.9 913.1 798.6 916.0C804.2 918.9 801.4 917.5 807.0 920.5C812.7 923.5 809.9 921.9 815.4 925.0C821.0 928.1 818.2 926.6 823.7 929.8C829.3 932.9 826.5 931.3 832.0 934.6C837.5 937.9 834.8 936.2 840.2 939.5C845.7 942.9 842.9 941.2 848.4 944.6C853.8 947.9 851.1 946.2 856.5 949.7C861.9 953.1 859.2 951.4 864.6 954.8C869.9 958.3 867.2 956.6 872.6 960.1C878.0 963.5 875.3 961.8 880.6 965.3C886.0 968.8 883.3 967.1 888.7 970.6C894.0 974.1 891.3 972.3 896.7 975.9C902.0 979.4 899.4 977.6 904.7 981.1C910.1 984.6 907.4 982.9 912.8 986.4C918.1 989.8 915.4 988.1 920.8 991.6C926.2 995.0 923.5 993.3 928.9 996.7C934.3 1000.1 931.6 998.4 937.0 1001.8C942.5 1005.1 939.7 1003.5 945.2 1006.8C950.7 1010.1 947.9 1008.4 953.4 1011.7C958.9 1014.9 956.2 1013.3 961.7 1016.5C967.2 1019.6 964.4 1018.1 970.0 1021.1C975.6 1024.2 972.8 1022.7 978.4 1025.6C984.1 1028.6 981.2 1027.1 986.9 1030.0C992.6 1032.9 989.8 1031.5 995.5 1034.2C1001.3 1036.9 998.4 1035.6 1004.2 1038.2C1010.0 1040.8 1007.1 1039.6 1013.0 1042.0C1018.9 1044.5 1015.9 1043.3 1021.9 1045.6C1027.8 1048.0 1024.8 1046.8 1030.9 1049.0C1036.9 1051.2 1037.0 1051.1 1040.0 1052.2" stroke-width="9.0" stroke-linecap="round"/>
<path d="M1040.0 1050.5C1043.0 1051.1 1043.0 1051.1 1049.1 1052.3C1055.2 1053.5 1052.2 1052.9 1058.3 1054.1C1064.3 1055.2 1061.3 1054.6 1067.4 1055.7C1073.5 1056.8 1070.4 1056.2 1076.6 1057.3C1082.7 1058.3 1079.6 1057.8 1085.7 1058.7C1091.8 1059.7 1088.8 1059.2 1094.9 1060.1C1101.0 1061.1 1097.9 1060.6 1104.1 1061.5C1110.2 1062.3 1107.1 1061.9 1113.3 1062.7C1119.4 1063.5 1116.3 1063.1 1122.5 1063.9C1128.6 1064.7 1125.5 1064.3 1131.7 1065.0C1137.8 1065.7 1134.7 1065.4 1140.9 1066.1C1147.0 1066.7 1143.9 1066.4 1150.1 1067.0C1156.2 1067.7 1153.2 1067.4 1159.3 1068.0C1165.5 1068.5 1162.4 1068.3 1168.6 1068.8C1174.7 1069.4 1171.6 1069.1 1177.8 1069.6C1184.0 1070.1 1180.9 1069.9 1187.0 1070.3C1193.2 1070.8 1190.1 1070.6 1196.3 1071.0C1202.5 1071.5 1199.4 1071.2 1205.5 1071.6C1211.7 1072.1 1208.6 1071.9 1214.8 1072.2C1221.0 1072.6 1217.9 1072.4 1224.1 1072.8C1230.2 1073.1 1227.2 1072.9 1233.3 1073.3C1239.5 1073.6 1236.4 1073.4 1242.6 1073.7C1248.8 1074.0 1245.7 1073.8 1251.9 1074.1C1258.1 1074.4 1255.0 1074.2 1261.2 1074.5C1267.4 1074.7 1264.3 1074.6 1270.5 1074.8C1276.6 1075.0 1273.5 1074.9 1279.7 1075.1C1285.9 1075.3 1282.8 1075.2 1289.0 1075.4C1295.2 1075.5 1292.1 1075.4 1298.3 1075.6C1304.5 1075.7 1301.4 1075.7 1307.6 1075.8C1313.8 1075.9 1310.7 1075.9 1316.9 1076.0C1323.1 1076.1 1320.0 1076.0 1326.2 1076.1C1332.4 1076.2 1329.3 1076.2 1335.5 1076.3C1341.7 1076.4 1338.6 1076.3 1344.8 1076.4C1351.0 1076.5 1347.9 1076.4 1354.1 1076.5C1360.3 1076.6 1357.2 1076.5 1363.4 1076.6C1369.6 1076.6 1366.5 1076.6 1372.7 1076.7C1378.9 1076.7 1375.8 1076.7 1382.0 1076.7C1388.1 1076.8 1385.0 1076.8 1391.2 1076.8C1397.4 1076.8 1394.3 1076.8 1400.5 1076.8C1406.7 1076.9 1403.6 1076.9 1409.8 1076.9C1416.0 1076.9 1412.9 1076.9 1419.1 1077.0C1425.3 1077.0 1422.2 1077.0 1428.4 1077.0C1434.6 1077.0 1431.5 1077.0 1437.7 1077.1C1443.8 1077.1 1440.8 1077.1 1446.9 1077.1C1453.1 1077.2 1450.0 1077.2 1456.2 1077.2C1462.4 1077.3 1459.3 1077.2 1465.5 1077.3C1471.7 1077.4 1468.6 1077.3 1474.7 1077.4C1480.9 1077.5 1480.9 1077.5 1484.0 1077.5" stroke-width="9.5"/>
<path d="M940.0 994.0C942.9 995.5 942.8 995.5 948.6 998.4C954.3 1001.3 951.4 999.9 957.2 1002.7C963.0 1005.4 960.1 1004.1 966.0 1006.7C971.8 1009.3 968.9 1008.0 974.8 1010.5C980.7 1013.0 977.7 1011.8 983.7 1014.2C989.6 1016.5 986.6 1015.4 992.6 1017.6C998.6 1019.9 995.6 1018.8 1001.6 1020.9C1007.7 1023.1 1004.6 1022.0 1010.7 1024.1C1016.8 1026.1 1013.7 1025.1 1019.8 1027.0C1025.9 1029.0 1022.9 1028.0 1029.0 1029.9C1035.2 1031.7 1032.1 1030.8 1038.2 1032.5C1044.4 1034.3 1041.3 1033.4 1047.5 1035.1C1053.7 1036.7 1050.6 1035.9 1056.8 1037.5C1063.1 1039.0 1059.9 1038.3 1066.2 1039.7C1072.4 1041.2 1069.3 1040.5 1075.6 1041.9C1081.8 1043.3 1078.7 1042.6 1085.0 1043.9C1091.3 1045.2 1088.1 1044.6 1094.4 1045.9C1100.7 1047.1 1097.6 1046.5 1103.9 1047.7C1110.2 1048.9 1107.1 1048.3 1113.4 1049.4C1119.7 1050.6 1116.6 1050.0 1122.9 1051.1C1129.2 1052.2 1126.1 1051.6 1132.4 1052.7C1138.8 1053.7 1135.6 1053.2 1141.9 1054.2C1148.3 1055.1 1145.1 1054.7 1151.5 1055.6C1157.8 1056.5 1154.6 1056.1 1161.0 1057.0C1167.3 1057.9 1164.2 1057.4 1170.5 1058.3C1176.8 1059.2 1173.7 1058.7 1180.0 1059.6C1186.3 1060.4 1183.2 1060.0 1189.5 1060.8C1195.8 1061.6 1195.8 1061.6 1199.0 1062.0" stroke-width="2.6" stroke-dasharray="11 7"/>
</g>
<g id="curvelabels">
<text x="502.57" y="126.0" letter-spacing="0.00">a</text>
<text x="524.00" y="364.0" letter-spacing="0.00">b</text>
<text x="519.37" y="675.0" letter-spacing="0.00">c</text>
<text x="429.88" y="827.0" letter-spacing="0.00">f</text>
<text x="522.30" y="809.0" letter-spacing="0.00">e</text>
<text x="507.51" y="913.0" letter-spacing="0.00">d</text>
<path d="M432 818L404 844M521 802L480 842" stroke="#000" stroke-width="2.4" fill="none"/>
</g>
<!--CURVES-->
</svg>
</body></html>
